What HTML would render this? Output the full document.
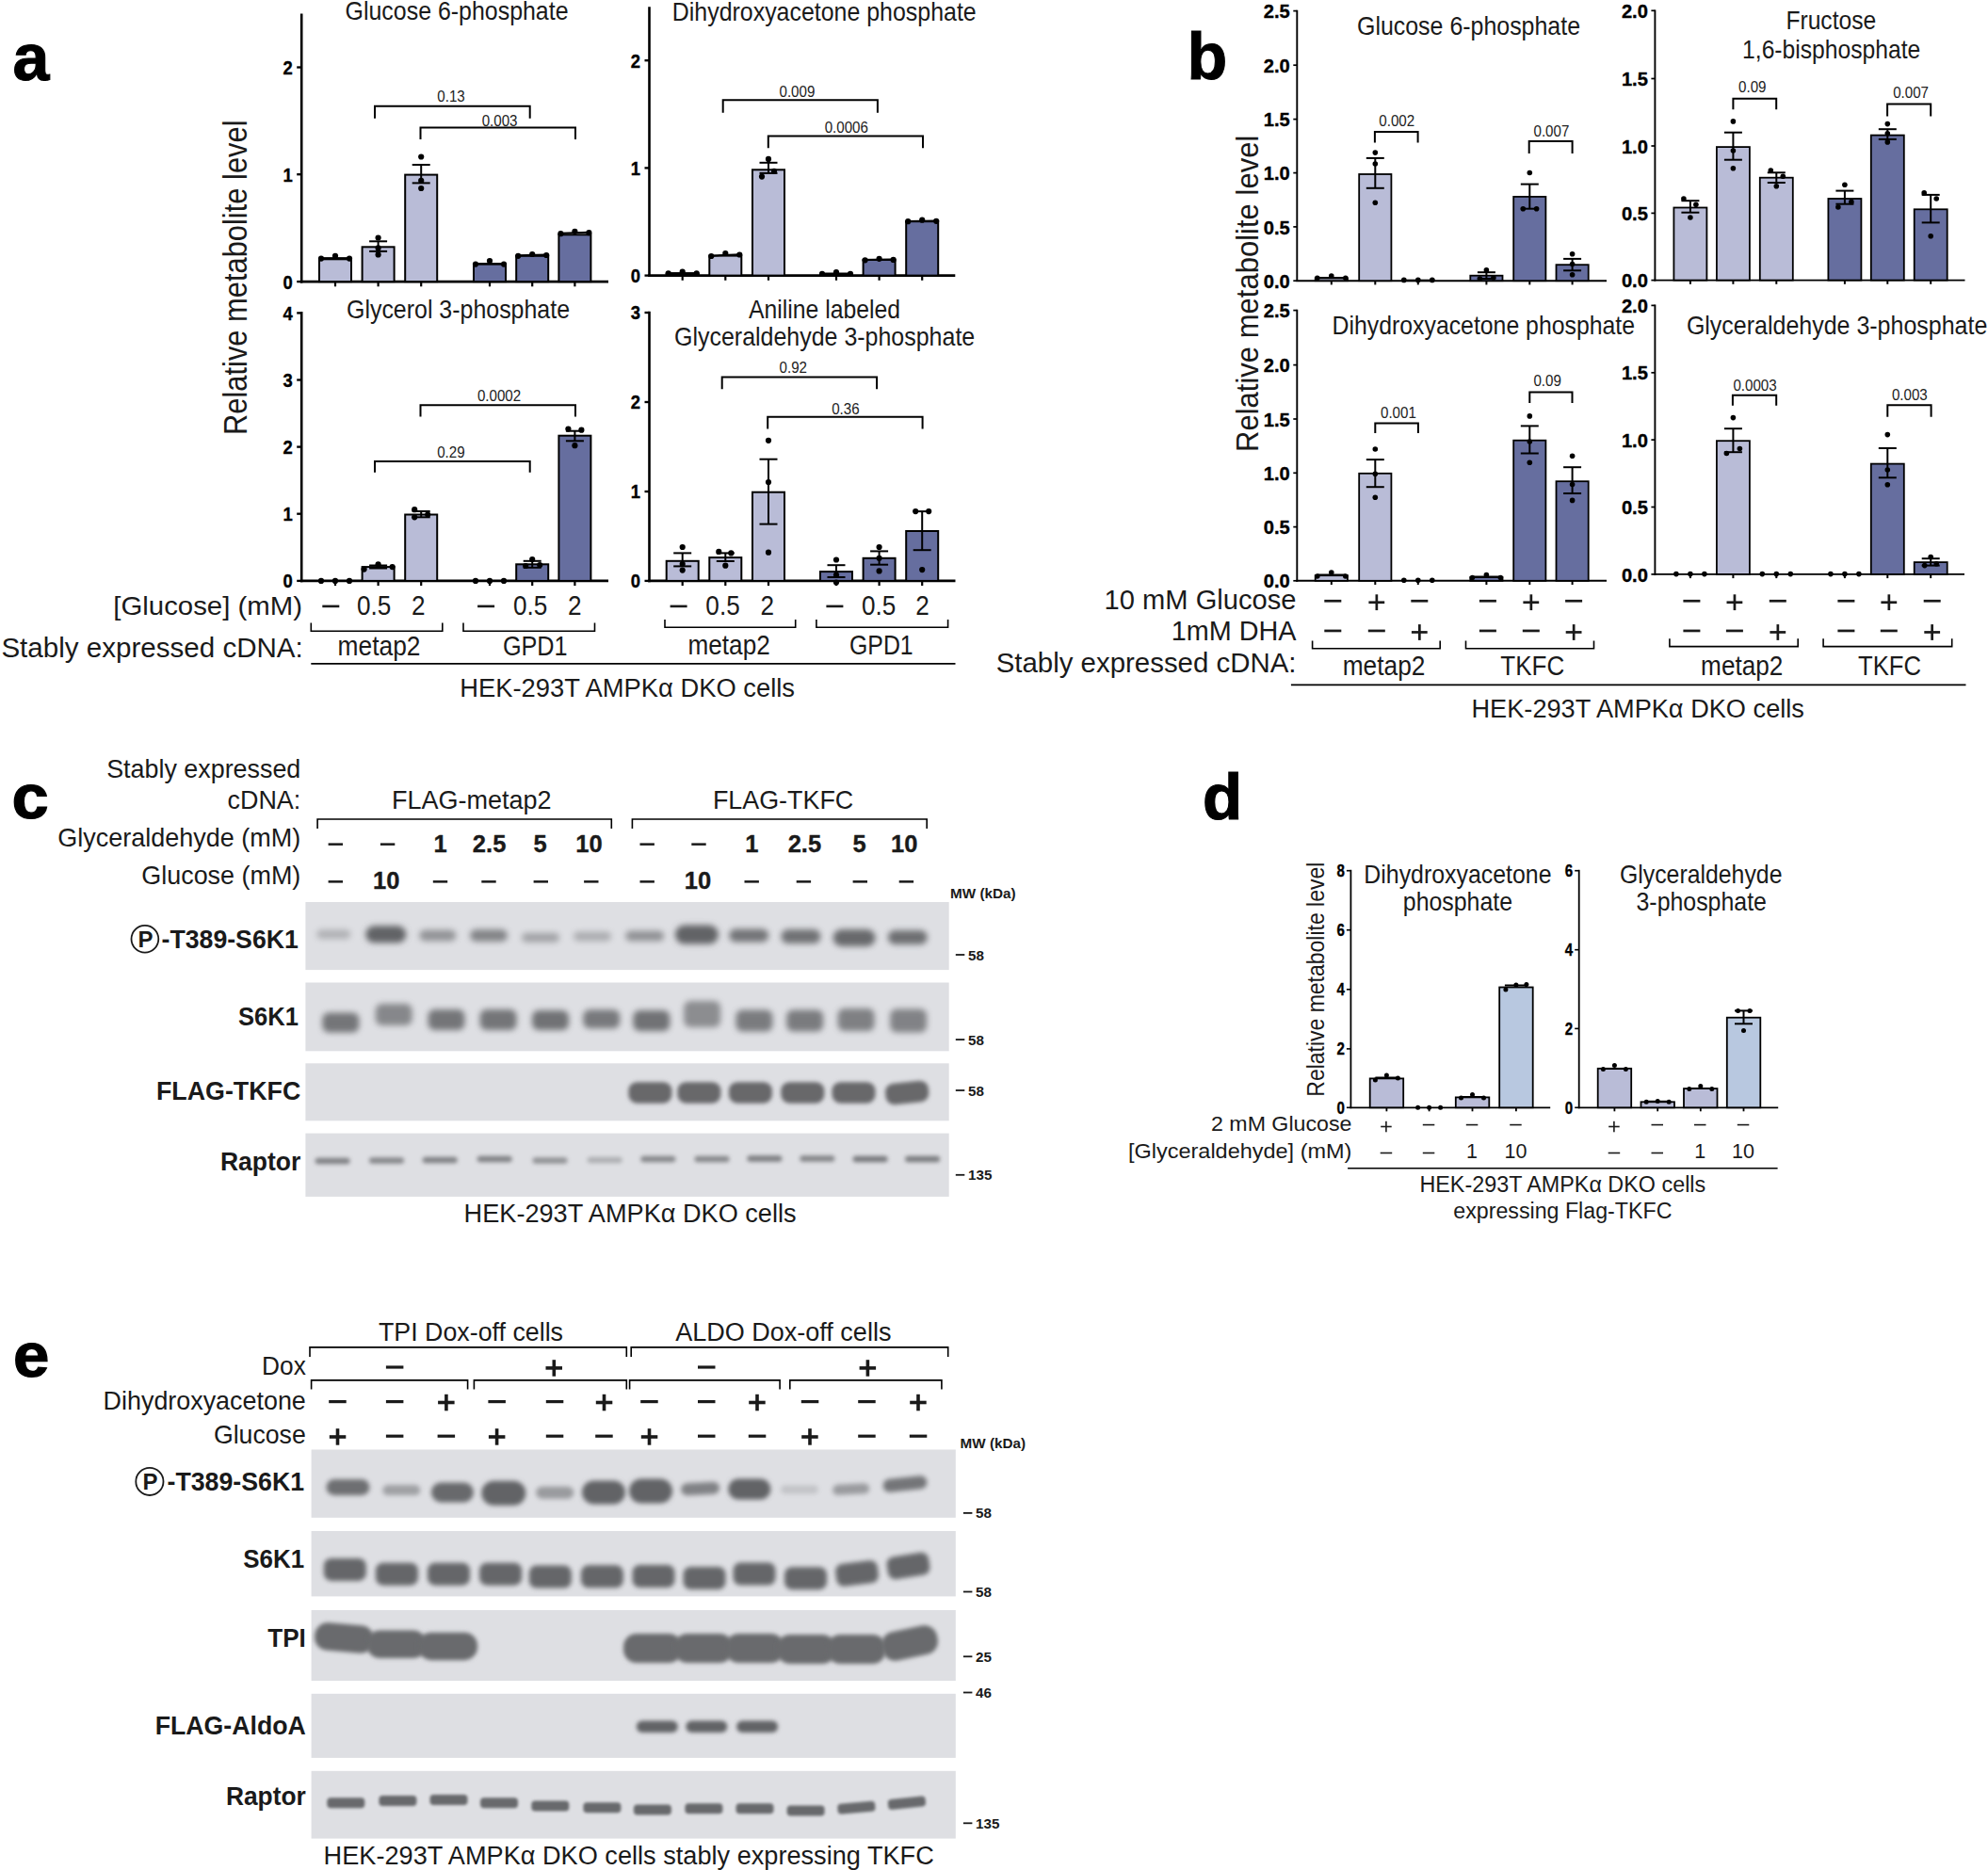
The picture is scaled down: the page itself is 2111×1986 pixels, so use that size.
<!DOCTYPE html>
<html lang="en"><head><meta charset="utf-8"><title>Figure</title>
<style>
html,body{margin:0;padding:0;background:#fff;}
svg{display:block}
text{font-family:"Liberation Sans",Arial,Helvetica,sans-serif;}
</style></head>
<body>
<svg width="2111" height="1986" viewBox="0 0 2111 1986">
<defs>
<filter id="b15" x="-30%" y="-100%" width="160%" height="300%"><feGaussianBlur stdDeviation="1.5"/></filter>
<filter id="b2" x="-30%" y="-100%" width="160%" height="300%"><feGaussianBlur stdDeviation="2"/></filter>
<filter id="b25" x="-30%" y="-100%" width="160%" height="300%"><feGaussianBlur stdDeviation="2.5"/></filter>
<filter id="b35" x="-30%" y="-100%" width="160%" height="300%"><feGaussianBlur stdDeviation="3.5"/></filter>
<filter id="b3" x="-30%" y="-100%" width="160%" height="300%"><feGaussianBlur stdDeviation="3"/></filter>
<filter id="b4" x="-30%" y="-100%" width="160%" height="300%"><feGaussianBlur stdDeviation="4"/></filter>
</defs>
<rect width="2111" height="1986" fill="#fff"/>
<text x="13.5" y="84.5" font-size="70" font-weight="bold" fill="#000" stroke="#000" stroke-width="1">a</text>
<text transform="translate(262.0,462.0) rotate(-90)" font-size="35.5" textLength="334.5" lengthAdjust="spacingAndGlyphs" fill="#1a1a1a">Relative metabolite level</text>
<line x1="320.2" y1="14.5" x2="320.2" y2="300.4" stroke="#000" stroke-width="2.6" stroke-linecap="butt"/>
<line x1="318.9" y1="299.1" x2="646.0" y2="299.1" stroke="#000" stroke-width="2.6" stroke-linecap="butt"/>
<line x1="315.2" y1="71.5" x2="320.2" y2="71.5" stroke="#000" stroke-width="2.3400000000000003" stroke-linecap="butt"/>
<text transform="translate(310.7,78.9) scale(0.9,1)" font-size="20.5" font-weight="bold" text-anchor="end" fill="#000" stroke="#000" stroke-width="0.35">2</text>
<line x1="315.2" y1="185.2" x2="320.2" y2="185.2" stroke="#000" stroke-width="2.3400000000000003" stroke-linecap="butt"/>
<text transform="translate(310.7,192.6) scale(0.9,1)" font-size="20.5" font-weight="bold" text-anchor="end" fill="#000" stroke="#000" stroke-width="0.35">1</text>
<line x1="315.2" y1="299.1" x2="320.2" y2="299.1" stroke="#000" stroke-width="2.3400000000000003" stroke-linecap="butt"/>
<text transform="translate(310.7,306.5) scale(0.9,1)" font-size="20.5" font-weight="bold" text-anchor="end" fill="#000" stroke="#000" stroke-width="0.35">0</text>
<line x1="356.0" y1="299.1" x2="356.0" y2="304.3" stroke="#000" stroke-width="2.2" stroke-linecap="butt"/>
<line x1="401.6" y1="299.1" x2="401.6" y2="304.3" stroke="#000" stroke-width="2.2" stroke-linecap="butt"/>
<line x1="447.2" y1="299.1" x2="447.2" y2="304.3" stroke="#000" stroke-width="2.2" stroke-linecap="butt"/>
<line x1="520.0" y1="299.1" x2="520.0" y2="304.3" stroke="#000" stroke-width="2.2" stroke-linecap="butt"/>
<line x1="565.2" y1="299.1" x2="565.2" y2="304.3" stroke="#000" stroke-width="2.2" stroke-linecap="butt"/>
<line x1="610.4" y1="299.1" x2="610.4" y2="304.3" stroke="#000" stroke-width="2.2" stroke-linecap="butt"/>
<text x="366.6" y="21.4" font-size="28"  textLength="236.9" lengthAdjust="spacingAndGlyphs" fill="#1a1a1a" >Glucose 6-phosphate</text>
<rect x="339.0" y="275.3" width="34.0" height="23.8" fill="#b9bcd7" stroke="#000" stroke-width="2"/>
<rect x="384.6" y="262.3" width="34.0" height="36.8" fill="#b9bcd7" stroke="#000" stroke-width="2"/>
<rect x="430.2" y="185.6" width="34.0" height="113.5" fill="#b9bcd7" stroke="#000" stroke-width="2"/>
<rect x="503.0" y="280.6" width="34.0" height="18.5" fill="#666e9f" stroke="#000" stroke-width="2"/>
<rect x="548.2" y="271.8" width="34.0" height="27.3" fill="#666e9f" stroke="#000" stroke-width="2"/>
<rect x="593.4" y="249.3" width="34.0" height="49.8" fill="#666e9f" stroke="#000" stroke-width="2"/>
<line x1="401.6" y1="256.3" x2="401.6" y2="266.9" stroke="#000" stroke-width="2" stroke-linecap="butt"/>
<line x1="392.1" y1="256.3" x2="411.1" y2="256.3" stroke="#000" stroke-width="2" stroke-linecap="butt"/>
<line x1="392.1" y1="266.9" x2="411.1" y2="266.9" stroke="#000" stroke-width="2" stroke-linecap="butt"/>
<line x1="447.2" y1="175.0" x2="447.2" y2="194.4" stroke="#000" stroke-width="2" stroke-linecap="butt"/>
<line x1="437.7" y1="175.0" x2="456.7" y2="175.0" stroke="#000" stroke-width="2" stroke-linecap="butt"/>
<line x1="437.7" y1="194.4" x2="456.7" y2="194.4" stroke="#000" stroke-width="2" stroke-linecap="butt"/>
<line x1="341.0" y1="274.1" x2="371.0" y2="274.1" stroke="#000" stroke-width="2" stroke-linecap="butt"/>
<circle cx="341.0" cy="274.6" r="3.1" fill="#000"/>
<circle cx="356.0" cy="271.8" r="3.1" fill="#000"/>
<circle cx="371.0" cy="274.6" r="3.1" fill="#000"/>
<line x1="505.0" y1="280.1" x2="535.0" y2="280.1" stroke="#000" stroke-width="2" stroke-linecap="butt"/>
<circle cx="505.0" cy="280.6" r="3.1" fill="#000"/>
<circle cx="520.0" cy="277.1" r="3.1" fill="#000"/>
<circle cx="535.0" cy="280.6" r="3.1" fill="#000"/>
<line x1="550.2" y1="271.3" x2="580.2" y2="270.5" stroke="#000" stroke-width="2" stroke-linecap="butt"/>
<circle cx="550.2" cy="271.8" r="3.1" fill="#000"/>
<circle cx="565.2" cy="270.0" r="3.1" fill="#000"/>
<circle cx="580.2" cy="271.0" r="3.1" fill="#000"/>
<line x1="595.4" y1="247.7" x2="625.4" y2="246.7" stroke="#000" stroke-width="2" stroke-linecap="butt"/>
<circle cx="595.4" cy="248.2" r="3.1" fill="#000"/>
<circle cx="610.4" cy="245.8" r="3.1" fill="#000"/>
<circle cx="625.4" cy="247.2" r="3.1" fill="#000"/>
<circle cx="401.6" cy="252.5" r="3.1" fill="#000"/>
<circle cx="401.6" cy="263.4" r="3.1" fill="#000"/>
<circle cx="401.6" cy="270.4" r="3.1" fill="#000"/>
<circle cx="447.2" cy="166.5" r="3.1" fill="#000"/>
<circle cx="447.2" cy="191.9" r="3.1" fill="#000"/>
<circle cx="447.2" cy="200.0" r="3.1" fill="#000"/>
<path d="M398.0,125.7 V112.7 H562.7 V125.7" stroke="#000" stroke-width="2" fill="none"/>
<text transform="translate(479.0,108.0) scale(0.89,1)" font-size="17"  text-anchor="middle" fill="#222">0.13</text>
<path d="M446.5,148.0 V135.6 H611.0 V148.0" stroke="#000" stroke-width="2" fill="none"/>
<text transform="translate(530.6,133.6) scale(0.89,1)" font-size="17"  text-anchor="middle" fill="#222">0.003</text>
<line x1="320.2" y1="331.1" x2="320.2" y2="618.2" stroke="#000" stroke-width="2.6" stroke-linecap="butt"/>
<line x1="318.9" y1="616.9" x2="646.0" y2="616.9" stroke="#000" stroke-width="2.6" stroke-linecap="butt"/>
<line x1="315.2" y1="332.4" x2="320.2" y2="332.4" stroke="#000" stroke-width="2.3400000000000003" stroke-linecap="butt"/>
<text transform="translate(310.7,339.8) scale(0.9,1)" font-size="20.5" font-weight="bold" text-anchor="end" fill="#000" stroke="#000" stroke-width="0.35">4</text>
<line x1="315.2" y1="403.5" x2="320.2" y2="403.5" stroke="#000" stroke-width="2.3400000000000003" stroke-linecap="butt"/>
<text transform="translate(310.7,410.9) scale(0.9,1)" font-size="20.5" font-weight="bold" text-anchor="end" fill="#000" stroke="#000" stroke-width="0.35">3</text>
<line x1="315.2" y1="474.6" x2="320.2" y2="474.6" stroke="#000" stroke-width="2.3400000000000003" stroke-linecap="butt"/>
<text transform="translate(310.7,482.0) scale(0.9,1)" font-size="20.5" font-weight="bold" text-anchor="end" fill="#000" stroke="#000" stroke-width="0.35">2</text>
<line x1="315.2" y1="545.7" x2="320.2" y2="545.7" stroke="#000" stroke-width="2.3400000000000003" stroke-linecap="butt"/>
<text transform="translate(310.7,553.1) scale(0.9,1)" font-size="20.5" font-weight="bold" text-anchor="end" fill="#000" stroke="#000" stroke-width="0.35">1</text>
<line x1="315.2" y1="616.9" x2="320.2" y2="616.9" stroke="#000" stroke-width="2.3400000000000003" stroke-linecap="butt"/>
<text transform="translate(310.7,624.3) scale(0.9,1)" font-size="20.5" font-weight="bold" text-anchor="end" fill="#000" stroke="#000" stroke-width="0.35">0</text>
<line x1="356.0" y1="616.9" x2="356.0" y2="622.1" stroke="#000" stroke-width="2.2" stroke-linecap="butt"/>
<line x1="401.6" y1="616.9" x2="401.6" y2="622.1" stroke="#000" stroke-width="2.2" stroke-linecap="butt"/>
<line x1="447.2" y1="616.9" x2="447.2" y2="622.1" stroke="#000" stroke-width="2.2" stroke-linecap="butt"/>
<line x1="520.0" y1="616.9" x2="520.0" y2="622.1" stroke="#000" stroke-width="2.2" stroke-linecap="butt"/>
<line x1="565.2" y1="616.9" x2="565.2" y2="622.1" stroke="#000" stroke-width="2.2" stroke-linecap="butt"/>
<line x1="610.4" y1="616.9" x2="610.4" y2="622.1" stroke="#000" stroke-width="2.2" stroke-linecap="butt"/>
<text x="368.0" y="337.7" font-size="28"  textLength="237.0" lengthAdjust="spacingAndGlyphs" fill="#1a1a1a" >Glycerol 3-phosphate</text>
<rect x="384.6" y="602.1" width="34.0" height="14.8" fill="#b9bcd7" stroke="#000" stroke-width="2"/>
<rect x="430.2" y="546.5" width="34.0" height="70.4" fill="#b9bcd7" stroke="#000" stroke-width="2"/>
<rect x="548.2" y="599.3" width="34.0" height="17.6" fill="#666e9f" stroke="#000" stroke-width="2"/>
<rect x="593.4" y="462.7" width="34.0" height="154.2" fill="#666e9f" stroke="#000" stroke-width="2"/>
<circle cx="341.0" cy="616.9" r="3.1" fill="#000"/>
<circle cx="356.0" cy="616.9" r="3.1" fill="#000"/>
<circle cx="371.0" cy="616.9" r="3.1" fill="#000"/>
<circle cx="505.0" cy="616.9" r="3.1" fill="#000"/>
<circle cx="520.0" cy="616.9" r="3.1" fill="#000"/>
<circle cx="535.0" cy="616.9" r="3.1" fill="#000"/>
<line x1="401.6" y1="600.5" x2="401.6" y2="603.5" stroke="#000" stroke-width="2" stroke-linecap="butt"/>
<line x1="392.1" y1="600.5" x2="411.1" y2="600.5" stroke="#000" stroke-width="2" stroke-linecap="butt"/>
<line x1="392.1" y1="603.5" x2="411.1" y2="603.5" stroke="#000" stroke-width="2" stroke-linecap="butt"/>
<circle cx="386.6" cy="604.6" r="3.1" fill="#000"/>
<circle cx="401.6" cy="599.3" r="3.1" fill="#000"/>
<circle cx="416.6" cy="602.1" r="3.1" fill="#000"/>
<line x1="447.2" y1="543.0" x2="447.2" y2="549.3" stroke="#000" stroke-width="2" stroke-linecap="butt"/>
<line x1="437.7" y1="543.0" x2="456.7" y2="543.0" stroke="#000" stroke-width="2" stroke-linecap="butt"/>
<line x1="437.7" y1="549.3" x2="456.7" y2="549.3" stroke="#000" stroke-width="2" stroke-linecap="butt"/>
<circle cx="440.2" cy="541.2" r="3.1" fill="#000"/>
<circle cx="440.2" cy="549.3" r="3.1" fill="#000"/>
<circle cx="454.2" cy="546.5" r="3.1" fill="#000"/>
<line x1="565.2" y1="595.8" x2="565.2" y2="602.8" stroke="#000" stroke-width="2" stroke-linecap="butt"/>
<line x1="555.7" y1="595.8" x2="574.7" y2="595.8" stroke="#000" stroke-width="2" stroke-linecap="butt"/>
<line x1="555.7" y1="602.8" x2="574.7" y2="602.8" stroke="#000" stroke-width="2" stroke-linecap="butt"/>
<circle cx="558.2" cy="601.0" r="3.1" fill="#000"/>
<circle cx="565.2" cy="594.0" r="3.1" fill="#000"/>
<circle cx="573.2" cy="600.0" r="3.1" fill="#000"/>
<line x1="610.4" y1="457.7" x2="610.4" y2="468.3" stroke="#000" stroke-width="2" stroke-linecap="butt"/>
<line x1="600.9" y1="457.7" x2="619.9" y2="457.7" stroke="#000" stroke-width="2" stroke-linecap="butt"/>
<line x1="600.9" y1="468.3" x2="619.9" y2="468.3" stroke="#000" stroke-width="2" stroke-linecap="butt"/>
<circle cx="603.4" cy="455.6" r="3.1" fill="#000"/>
<circle cx="617.4" cy="456.7" r="3.1" fill="#000"/>
<circle cx="610.4" cy="473.2" r="3.1" fill="#000"/>
<path d="M446.5,442.6 V430.3 H611.0 V442.6" stroke="#000" stroke-width="2" fill="none"/>
<text transform="translate(530.0,425.7) scale(0.89,1)" font-size="17"  text-anchor="middle" fill="#222">0.0002</text>
<path d="M398.0,501.8 V490.1 H562.7 V501.8" stroke="#000" stroke-width="2" fill="none"/>
<text transform="translate(478.9,485.9) scale(0.89,1)" font-size="17"  text-anchor="middle" fill="#222">0.29</text>
<line x1="689.5" y1="7.3" x2="689.5" y2="293.9" stroke="#000" stroke-width="2.6" stroke-linecap="butt"/>
<line x1="688.2" y1="292.6" x2="1014.3" y2="292.6" stroke="#000" stroke-width="2.6" stroke-linecap="butt"/>
<line x1="684.5" y1="64.2" x2="689.5" y2="64.2" stroke="#000" stroke-width="2.3400000000000003" stroke-linecap="butt"/>
<text transform="translate(680.0,71.6) scale(0.9,1)" font-size="20.5" font-weight="bold" text-anchor="end" fill="#000" stroke="#000" stroke-width="0.35">2</text>
<line x1="684.5" y1="178.4" x2="689.5" y2="178.4" stroke="#000" stroke-width="2.3400000000000003" stroke-linecap="butt"/>
<text transform="translate(680.0,185.8) scale(0.9,1)" font-size="20.5" font-weight="bold" text-anchor="end" fill="#000" stroke="#000" stroke-width="0.35">1</text>
<line x1="684.5" y1="292.6" x2="689.5" y2="292.6" stroke="#000" stroke-width="2.3400000000000003" stroke-linecap="butt"/>
<text transform="translate(680.0,300.0) scale(0.9,1)" font-size="20.5" font-weight="bold" text-anchor="end" fill="#000" stroke="#000" stroke-width="0.35">0</text>
<line x1="724.7" y1="292.6" x2="724.7" y2="297.8" stroke="#000" stroke-width="2.2" stroke-linecap="butt"/>
<line x1="770.3" y1="292.6" x2="770.3" y2="297.8" stroke="#000" stroke-width="2.2" stroke-linecap="butt"/>
<line x1="816.0" y1="292.6" x2="816.0" y2="297.8" stroke="#000" stroke-width="2.2" stroke-linecap="butt"/>
<line x1="888.0" y1="292.6" x2="888.0" y2="297.8" stroke="#000" stroke-width="2.2" stroke-linecap="butt"/>
<line x1="933.6" y1="292.6" x2="933.6" y2="297.8" stroke="#000" stroke-width="2.2" stroke-linecap="butt"/>
<line x1="979.2" y1="292.6" x2="979.2" y2="297.8" stroke="#000" stroke-width="2.2" stroke-linecap="butt"/>
<text x="713.8" y="21.5" font-size="28"  textLength="322.9" lengthAdjust="spacingAndGlyphs" fill="#1a1a1a" >Dihydroxyacetone phosphate</text>
<rect x="707.7" y="290.6" width="34.0" height="2.0" fill="#b9bcd7" stroke="#000" stroke-width="2"/>
<rect x="753.3" y="271.6" width="34.0" height="21.0" fill="#b9bcd7" stroke="#000" stroke-width="2"/>
<rect x="799.0" y="180.3" width="34.0" height="112.3" fill="#b9bcd7" stroke="#000" stroke-width="2"/>
<rect x="871.0" y="291.0" width="34.0" height="1.6" fill="#666e9f" stroke="#000" stroke-width="2"/>
<rect x="916.6" y="275.9" width="34.0" height="16.7" fill="#666e9f" stroke="#000" stroke-width="2"/>
<rect x="962.2" y="235.2" width="34.0" height="57.4" fill="#666e9f" stroke="#000" stroke-width="2"/>
<line x1="709.7" y1="290.1" x2="739.7" y2="290.1" stroke="#000" stroke-width="2" stroke-linecap="butt"/>
<circle cx="709.7" cy="290.4" r="3.1" fill="#000"/>
<circle cx="724.7" cy="288.7" r="3.1" fill="#000"/>
<circle cx="739.7" cy="290.4" r="3.1" fill="#000"/>
<line x1="755.3" y1="271.7" x2="785.3" y2="270.2" stroke="#000" stroke-width="2" stroke-linecap="butt"/>
<circle cx="755.3" cy="272.0" r="3.1" fill="#000"/>
<circle cx="770.3" cy="269.0" r="3.1" fill="#000"/>
<circle cx="785.3" cy="270.5" r="3.1" fill="#000"/>
<line x1="873.0" y1="290.5" x2="903.0" y2="290.5" stroke="#000" stroke-width="2" stroke-linecap="butt"/>
<circle cx="873.0" cy="290.8" r="3.1" fill="#000"/>
<circle cx="888.0" cy="289.2" r="3.1" fill="#000"/>
<circle cx="903.0" cy="290.8" r="3.1" fill="#000"/>
<line x1="918.6" y1="276.0" x2="948.6" y2="275.6" stroke="#000" stroke-width="2" stroke-linecap="butt"/>
<circle cx="918.6" cy="276.3" r="3.1" fill="#000"/>
<circle cx="933.6" cy="274.8" r="3.1" fill="#000"/>
<circle cx="948.6" cy="275.9" r="3.1" fill="#000"/>
<line x1="964.2" y1="234.9" x2="994.2" y2="234.5" stroke="#000" stroke-width="2" stroke-linecap="butt"/>
<circle cx="964.2" cy="235.2" r="3.1" fill="#000"/>
<circle cx="979.2" cy="233.7" r="3.1" fill="#000"/>
<circle cx="994.2" cy="234.8" r="3.1" fill="#000"/>
<line x1="816.0" y1="172.8" x2="816.0" y2="183.9" stroke="#000" stroke-width="2" stroke-linecap="butt"/>
<line x1="806.5" y1="172.8" x2="825.5" y2="172.8" stroke="#000" stroke-width="2" stroke-linecap="butt"/>
<line x1="806.5" y1="183.9" x2="825.5" y2="183.9" stroke="#000" stroke-width="2" stroke-linecap="butt"/>
<circle cx="816.0" cy="168.9" r="3.1" fill="#000"/>
<circle cx="822.0" cy="181.8" r="3.1" fill="#000"/>
<circle cx="809.0" cy="187.6" r="3.1" fill="#000"/>
<path d="M767.7,119.8 V106.3 H931.9 V119.8" stroke="#000" stroke-width="2" fill="none"/>
<text transform="translate(846.4,102.5) scale(0.89,1)" font-size="17"  text-anchor="middle" fill="#222">0.009</text>
<path d="M815.8,157.2 V144.4 H980.0 V157.2" stroke="#000" stroke-width="2" fill="none"/>
<text transform="translate(898.8,140.5) scale(0.89,1)" font-size="17"  text-anchor="middle" fill="#222">0.0006</text>
<line x1="689.5" y1="330.7" x2="689.5" y2="618.2" stroke="#000" stroke-width="2.6" stroke-linecap="butt"/>
<line x1="688.2" y1="616.9" x2="1014.5" y2="616.9" stroke="#000" stroke-width="2.6" stroke-linecap="butt"/>
<line x1="684.5" y1="332.0" x2="689.5" y2="332.0" stroke="#000" stroke-width="2.3400000000000003" stroke-linecap="butt"/>
<text transform="translate(680.0,339.4) scale(0.9,1)" font-size="20.5" font-weight="bold" text-anchor="end" fill="#000" stroke="#000" stroke-width="0.35">3</text>
<line x1="684.5" y1="427.0" x2="689.5" y2="427.0" stroke="#000" stroke-width="2.3400000000000003" stroke-linecap="butt"/>
<text transform="translate(680.0,434.4) scale(0.9,1)" font-size="20.5" font-weight="bold" text-anchor="end" fill="#000" stroke="#000" stroke-width="0.35">2</text>
<line x1="684.5" y1="522.0" x2="689.5" y2="522.0" stroke="#000" stroke-width="2.3400000000000003" stroke-linecap="butt"/>
<text transform="translate(680.0,529.4) scale(0.9,1)" font-size="20.5" font-weight="bold" text-anchor="end" fill="#000" stroke="#000" stroke-width="0.35">1</text>
<line x1="684.5" y1="616.9" x2="689.5" y2="616.9" stroke="#000" stroke-width="2.3400000000000003" stroke-linecap="butt"/>
<text transform="translate(680.0,624.3) scale(0.9,1)" font-size="20.5" font-weight="bold" text-anchor="end" fill="#000" stroke="#000" stroke-width="0.35">0</text>
<line x1="724.7" y1="616.9" x2="724.7" y2="622.1" stroke="#000" stroke-width="2.2" stroke-linecap="butt"/>
<line x1="770.3" y1="616.9" x2="770.3" y2="622.1" stroke="#000" stroke-width="2.2" stroke-linecap="butt"/>
<line x1="816.0" y1="616.9" x2="816.0" y2="622.1" stroke="#000" stroke-width="2.2" stroke-linecap="butt"/>
<line x1="888.0" y1="616.9" x2="888.0" y2="622.1" stroke="#000" stroke-width="2.2" stroke-linecap="butt"/>
<line x1="933.6" y1="616.9" x2="933.6" y2="622.1" stroke="#000" stroke-width="2.2" stroke-linecap="butt"/>
<line x1="979.2" y1="616.9" x2="979.2" y2="622.1" stroke="#000" stroke-width="2.2" stroke-linecap="butt"/>
<text x="795.0" y="338.0" font-size="28"  textLength="161.0" lengthAdjust="spacingAndGlyphs" fill="#1a1a1a" >Aniline labeled</text>
<text x="716.0" y="367.4" font-size="28"  textLength="319.2" lengthAdjust="spacingAndGlyphs" fill="#1a1a1a" >Glyceraldehyde 3-phosphate</text>
<rect x="707.7" y="595.8" width="34.0" height="21.1" fill="#b9bcd7" stroke="#000" stroke-width="2"/>
<rect x="753.3" y="592.1" width="34.0" height="24.8" fill="#b9bcd7" stroke="#000" stroke-width="2"/>
<rect x="799.0" y="522.7" width="34.0" height="94.2" fill="#b9bcd7" stroke="#000" stroke-width="2"/>
<rect x="871.0" y="607.1" width="34.0" height="9.8" fill="#666e9f" stroke="#000" stroke-width="2"/>
<rect x="916.6" y="592.8" width="34.0" height="24.1" fill="#666e9f" stroke="#000" stroke-width="2"/>
<rect x="962.2" y="564.0" width="34.0" height="52.9" fill="#666e9f" stroke="#000" stroke-width="2"/>
<line x1="724.7" y1="587.4" x2="724.7" y2="601.4" stroke="#000" stroke-width="2" stroke-linecap="butt"/>
<line x1="715.2" y1="587.4" x2="734.2" y2="587.4" stroke="#000" stroke-width="2" stroke-linecap="butt"/>
<line x1="715.2" y1="601.4" x2="734.2" y2="601.4" stroke="#000" stroke-width="2" stroke-linecap="butt"/>
<line x1="770.3" y1="587.4" x2="770.3" y2="596.0" stroke="#000" stroke-width="2" stroke-linecap="butt"/>
<line x1="760.8" y1="587.4" x2="779.8" y2="587.4" stroke="#000" stroke-width="2" stroke-linecap="butt"/>
<line x1="760.8" y1="596.0" x2="779.8" y2="596.0" stroke="#000" stroke-width="2" stroke-linecap="butt"/>
<line x1="816.0" y1="487.7" x2="816.0" y2="556.6" stroke="#000" stroke-width="2" stroke-linecap="butt"/>
<line x1="806.5" y1="487.7" x2="825.5" y2="487.7" stroke="#000" stroke-width="2" stroke-linecap="butt"/>
<line x1="806.5" y1="556.6" x2="825.5" y2="556.6" stroke="#000" stroke-width="2" stroke-linecap="butt"/>
<line x1="888.0" y1="600.2" x2="888.0" y2="613.0" stroke="#000" stroke-width="2" stroke-linecap="butt"/>
<line x1="878.5" y1="600.2" x2="897.5" y2="600.2" stroke="#000" stroke-width="2" stroke-linecap="butt"/>
<line x1="878.5" y1="613.0" x2="897.5" y2="613.0" stroke="#000" stroke-width="2" stroke-linecap="butt"/>
<line x1="933.6" y1="585.4" x2="933.6" y2="599.7" stroke="#000" stroke-width="2" stroke-linecap="butt"/>
<line x1="924.1" y1="585.4" x2="943.1" y2="585.4" stroke="#000" stroke-width="2" stroke-linecap="butt"/>
<line x1="924.1" y1="599.7" x2="943.1" y2="599.7" stroke="#000" stroke-width="2" stroke-linecap="butt"/>
<line x1="979.2" y1="543.1" x2="979.2" y2="584.2" stroke="#000" stroke-width="2" stroke-linecap="butt"/>
<line x1="969.7" y1="543.1" x2="988.7" y2="543.1" stroke="#000" stroke-width="2" stroke-linecap="butt"/>
<line x1="969.7" y1="584.2" x2="988.7" y2="584.2" stroke="#000" stroke-width="2" stroke-linecap="butt"/>
<circle cx="724.7" cy="581.0" r="3.1" fill="#000"/>
<circle cx="724.7" cy="599.0" r="3.1" fill="#000"/>
<circle cx="724.7" cy="605.6" r="3.1" fill="#000"/>
<circle cx="763.3" cy="585.9" r="3.1" fill="#000"/>
<circle cx="776.3" cy="587.4" r="3.1" fill="#000"/>
<circle cx="770.3" cy="600.7" r="3.1" fill="#000"/>
<circle cx="816.0" cy="467.8" r="3.1" fill="#000"/>
<circle cx="816.0" cy="512.1" r="3.1" fill="#000"/>
<circle cx="816.0" cy="586.7" r="3.1" fill="#000"/>
<circle cx="888.0" cy="594.5" r="3.1" fill="#000"/>
<circle cx="888.0" cy="610.5" r="3.1" fill="#000"/>
<circle cx="888.0" cy="618.6" r="3.1" fill="#000"/>
<circle cx="933.6" cy="581.0" r="3.1" fill="#000"/>
<circle cx="933.6" cy="592.8" r="3.1" fill="#000"/>
<circle cx="933.6" cy="606.4" r="3.1" fill="#000"/>
<circle cx="972.2" cy="543.1" r="3.1" fill="#000"/>
<circle cx="986.2" cy="543.1" r="3.1" fill="#000"/>
<circle cx="979.2" cy="605.1" r="3.1" fill="#000"/>
<path d="M766.7,413.2 V400.4 H931.1 V413.2" stroke="#000" stroke-width="2" fill="none"/>
<text transform="translate(842.3,396.0) scale(0.89,1)" font-size="17"  text-anchor="middle" fill="#222">0.92</text>
<path d="M815.2,455.5 V442.7 H979.6 V455.5" stroke="#000" stroke-width="2" fill="none"/>
<text transform="translate(897.9,439.5) scale(0.89,1)" font-size="17"  text-anchor="middle" fill="#222">0.36</text>
<text x="120.3" y="653.4" font-size="28.5"  textLength="200.7" lengthAdjust="spacingAndGlyphs" fill="#1a1a1a" >[Glucose] (mM)</text>
<text x="1.4" y="698.2" font-size="30"  textLength="320.4" lengthAdjust="spacingAndGlyphs" fill="#1a1a1a" >Stably expressed cDNA:</text>
<rect x="342.3" y="642.6" width="18.0" height="2.6" fill="#1a1a1a"/>
<text transform="translate(397.2,653.2) scale(0.87,1)" font-size="30"  text-anchor="middle" fill="#1a1a1a">0.5</text>
<text transform="translate(444.2,653.2) scale(0.87,1)" font-size="30"  text-anchor="middle" fill="#1a1a1a">2</text>
<rect x="507.1" y="642.6" width="18.0" height="2.6" fill="#1a1a1a"/>
<text transform="translate(563.2,653.2) scale(0.87,1)" font-size="30"  text-anchor="middle" fill="#1a1a1a">0.5</text>
<text transform="translate(610.2,653.2) scale(0.87,1)" font-size="30"  text-anchor="middle" fill="#1a1a1a">2</text>
<rect x="711.6" y="642.6" width="18.0" height="2.6" fill="#1a1a1a"/>
<text transform="translate(767.5,653.2) scale(0.87,1)" font-size="30"  text-anchor="middle" fill="#1a1a1a">0.5</text>
<text transform="translate(814.7,653.2) scale(0.87,1)" font-size="30"  text-anchor="middle" fill="#1a1a1a">2</text>
<rect x="877.4" y="642.6" width="18.0" height="2.6" fill="#1a1a1a"/>
<text transform="translate(933.2,653.2) scale(0.87,1)" font-size="30"  text-anchor="middle" fill="#1a1a1a">0.5</text>
<text transform="translate(979.6,653.2) scale(0.87,1)" font-size="30"  text-anchor="middle" fill="#1a1a1a">2</text>
<path d="M330.3,661.5 V670.3 H469.8 V661.5" stroke="#000" stroke-width="1.6" fill="none"/>
<path d="M492.0,661.5 V670.3 H631.5 V661.5" stroke="#000" stroke-width="1.6" fill="none"/>
<path d="M706.0,658.0 V666.3 H844.7 V658.0" stroke="#000" stroke-width="1.6" fill="none"/>
<path d="M866.9,658.0 V666.3 H1006.6 V658.0" stroke="#000" stroke-width="1.6" fill="none"/>
<text x="358.6" y="695.7" font-size="30"  textLength="87.9" lengthAdjust="spacingAndGlyphs" fill="#1a1a1a" >metap2</text>
<text x="533.9" y="695.7" font-size="30"  textLength="68.7" lengthAdjust="spacingAndGlyphs" fill="#1a1a1a" >GPD1</text>
<text x="730.6" y="694.7" font-size="30"  textLength="87.1" lengthAdjust="spacingAndGlyphs" fill="#1a1a1a" >metap2</text>
<text x="902.0" y="694.7" font-size="30"  textLength="67.7" lengthAdjust="spacingAndGlyphs" fill="#1a1a1a" >GPD1</text>
<line x1="330.3" y1="704.8" x2="1014.5" y2="704.8" stroke="#000" stroke-width="1.8" stroke-linecap="butt"/>
<text x="488.3" y="739.8" font-size="27"  textLength="355.7" lengthAdjust="spacingAndGlyphs" fill="#1a1a1a" >HEK-293T AMPKα DKO cells</text>
<text x="1260.5" y="84.4" font-size="70" font-weight="bold" fill="#000" stroke="#000" stroke-width="1">b</text>
<text transform="translate(1336.0,480.0) rotate(-90)" font-size="33.5" textLength="336.3" lengthAdjust="spacingAndGlyphs" fill="#1a1a1a">Relative metabolite level</text>
<line x1="1377.3" y1="10.7" x2="1377.3" y2="299.1" stroke="#000" stroke-width="1.9" stroke-linecap="butt"/>
<line x1="1376.3" y1="298.2" x2="1706.0" y2="298.2" stroke="#000" stroke-width="1.9" stroke-linecap="butt"/>
<line x1="1373.3" y1="11.6" x2="1377.3" y2="11.6" stroke="#000" stroke-width="1.71" stroke-linecap="butt"/>
<text transform="translate(1369.8,19.2) scale(0.96,1)" font-size="21" font-weight="bold" text-anchor="end" fill="#000" stroke="#000" stroke-width="0.35">2.5</text>
<line x1="1373.3" y1="69.2" x2="1377.3" y2="69.2" stroke="#000" stroke-width="1.71" stroke-linecap="butt"/>
<text transform="translate(1369.8,76.8) scale(0.96,1)" font-size="21" font-weight="bold" text-anchor="end" fill="#000" stroke="#000" stroke-width="0.35">2.0</text>
<line x1="1373.3" y1="126.6" x2="1377.3" y2="126.6" stroke="#000" stroke-width="1.71" stroke-linecap="butt"/>
<text transform="translate(1369.8,134.2) scale(0.96,1)" font-size="21" font-weight="bold" text-anchor="end" fill="#000" stroke="#000" stroke-width="0.35">1.5</text>
<line x1="1373.3" y1="183.6" x2="1377.3" y2="183.6" stroke="#000" stroke-width="1.71" stroke-linecap="butt"/>
<text transform="translate(1369.8,191.2) scale(0.96,1)" font-size="21" font-weight="bold" text-anchor="end" fill="#000" stroke="#000" stroke-width="0.35">1.0</text>
<line x1="1373.3" y1="240.9" x2="1377.3" y2="240.9" stroke="#000" stroke-width="1.71" stroke-linecap="butt"/>
<text transform="translate(1369.8,248.5) scale(0.96,1)" font-size="21" font-weight="bold" text-anchor="end" fill="#000" stroke="#000" stroke-width="0.35">0.5</text>
<line x1="1373.3" y1="298.2" x2="1377.3" y2="298.2" stroke="#000" stroke-width="1.71" stroke-linecap="butt"/>
<text transform="translate(1369.8,305.8) scale(0.96,1)" font-size="21" font-weight="bold" text-anchor="end" fill="#000" stroke="#000" stroke-width="0.35">0.0</text>
<line x1="1413.8" y1="298.2" x2="1413.8" y2="302.4" stroke="#000" stroke-width="2" stroke-linecap="butt"/>
<line x1="1460.3" y1="298.2" x2="1460.3" y2="302.4" stroke="#000" stroke-width="2" stroke-linecap="butt"/>
<line x1="1505.8" y1="298.2" x2="1505.8" y2="302.4" stroke="#000" stroke-width="2" stroke-linecap="butt"/>
<line x1="1578.4" y1="298.2" x2="1578.4" y2="302.4" stroke="#000" stroke-width="2" stroke-linecap="butt"/>
<line x1="1624.3" y1="298.2" x2="1624.3" y2="302.4" stroke="#000" stroke-width="2" stroke-linecap="butt"/>
<line x1="1669.6" y1="298.2" x2="1669.6" y2="302.4" stroke="#000" stroke-width="2" stroke-linecap="butt"/>
<text x="1441.0" y="37.3" font-size="28"  textLength="237.0" lengthAdjust="spacingAndGlyphs" fill="#1a1a1a" >Glucose 6-phosphate</text>
<rect x="1396.7" y="295.5" width="34.2" height="2.7" fill="#b9bcd7" stroke="#000" stroke-width="1.8"/>
<rect x="1443.2" y="185.0" width="34.2" height="113.2" fill="#b9bcd7" stroke="#000" stroke-width="1.8"/>
<rect x="1488.7" y="297.6" width="34.2" height="0.6" fill="#b9bcd7" stroke="#000" stroke-width="1.8"/>
<rect x="1561.3" y="292.7" width="34.2" height="5.5" fill="#666e9f" stroke="#000" stroke-width="1.8"/>
<rect x="1607.2" y="208.9" width="34.2" height="89.3" fill="#666e9f" stroke="#000" stroke-width="1.8"/>
<rect x="1652.5" y="281.2" width="34.2" height="17.0" fill="#666e9f" stroke="#000" stroke-width="1.8"/>
<line x1="1398.8" y1="295.0" x2="1428.8" y2="295.0" stroke="#000" stroke-width="2" stroke-linecap="butt"/>
<circle cx="1398.8" cy="295.3" r="2.8" fill="#000"/>
<circle cx="1413.8" cy="293.0" r="2.8" fill="#000"/>
<circle cx="1428.8" cy="295.3" r="2.8" fill="#000"/>
<line x1="1460.3" y1="167.9" x2="1460.3" y2="199.8" stroke="#000" stroke-width="2" stroke-linecap="butt"/>
<line x1="1450.8" y1="167.9" x2="1469.8" y2="167.9" stroke="#000" stroke-width="2" stroke-linecap="butt"/>
<line x1="1450.8" y1="199.8" x2="1469.8" y2="199.8" stroke="#000" stroke-width="2" stroke-linecap="butt"/>
<circle cx="1460.3" cy="162.1" r="2.8" fill="#000"/>
<circle cx="1460.3" cy="174.0" r="2.8" fill="#000"/>
<circle cx="1460.3" cy="215.3" r="2.8" fill="#000"/>
<circle cx="1490.8" cy="297.4" r="2.8" fill="#000"/>
<circle cx="1505.8" cy="297.4" r="2.8" fill="#000"/>
<circle cx="1520.8" cy="297.4" r="2.8" fill="#000"/>
<line x1="1578.4" y1="289.2" x2="1578.4" y2="296.0" stroke="#000" stroke-width="2" stroke-linecap="butt"/>
<line x1="1568.9" y1="289.2" x2="1587.9" y2="289.2" stroke="#000" stroke-width="2" stroke-linecap="butt"/>
<line x1="1568.9" y1="296.0" x2="1587.9" y2="296.0" stroke="#000" stroke-width="2" stroke-linecap="butt"/>
<circle cx="1578.4" cy="286.9" r="2.8" fill="#000"/>
<circle cx="1571.4" cy="296.0" r="2.8" fill="#000"/>
<circle cx="1585.9" cy="295.0" r="2.8" fill="#000"/>
<line x1="1624.3" y1="195.6" x2="1624.3" y2="221.7" stroke="#000" stroke-width="2" stroke-linecap="butt"/>
<line x1="1614.8" y1="195.6" x2="1633.8" y2="195.6" stroke="#000" stroke-width="2" stroke-linecap="butt"/>
<line x1="1614.8" y1="221.7" x2="1633.8" y2="221.7" stroke="#000" stroke-width="2" stroke-linecap="butt"/>
<circle cx="1624.3" cy="183.5" r="2.8" fill="#000"/>
<circle cx="1617.3" cy="221.7" r="2.8" fill="#000"/>
<circle cx="1631.6" cy="221.7" r="2.8" fill="#000"/>
<line x1="1669.6" y1="274.9" x2="1669.6" y2="287.3" stroke="#000" stroke-width="2" stroke-linecap="butt"/>
<line x1="1660.1" y1="274.9" x2="1679.1" y2="274.9" stroke="#000" stroke-width="2" stroke-linecap="butt"/>
<line x1="1660.1" y1="287.3" x2="1679.1" y2="287.3" stroke="#000" stroke-width="2" stroke-linecap="butt"/>
<circle cx="1669.6" cy="269.7" r="2.8" fill="#000"/>
<circle cx="1669.6" cy="280.5" r="2.8" fill="#000"/>
<circle cx="1669.6" cy="291.7" r="2.8" fill="#000"/>
<path d="M1459.9,151.6 V140.1 H1505.6 V151.6" stroke="#000" stroke-width="2" fill="none"/>
<text transform="translate(1483.2,134.4) scale(0.89,1)" font-size="17"  text-anchor="middle" fill="#222">0.002</text>
<path d="M1623.7,163.1 V150.1 H1669.6 V163.1" stroke="#000" stroke-width="2" fill="none"/>
<text transform="translate(1647.4,144.9) scale(0.89,1)" font-size="17"  text-anchor="middle" fill="#222">0.007</text>
<line x1="1377.3" y1="328.7" x2="1377.3" y2="617.8" stroke="#000" stroke-width="1.9" stroke-linecap="butt"/>
<line x1="1376.3" y1="616.8" x2="1706.0" y2="616.8" stroke="#000" stroke-width="1.9" stroke-linecap="butt"/>
<line x1="1373.3" y1="329.6" x2="1377.3" y2="329.6" stroke="#000" stroke-width="1.71" stroke-linecap="butt"/>
<text transform="translate(1369.8,337.2) scale(0.96,1)" font-size="21" font-weight="bold" text-anchor="end" fill="#000" stroke="#000" stroke-width="0.35">2.5</text>
<line x1="1373.3" y1="387.6" x2="1377.3" y2="387.6" stroke="#000" stroke-width="1.71" stroke-linecap="butt"/>
<text transform="translate(1369.8,395.2) scale(0.96,1)" font-size="21" font-weight="bold" text-anchor="end" fill="#000" stroke="#000" stroke-width="0.35">2.0</text>
<line x1="1373.3" y1="445.0" x2="1377.3" y2="445.0" stroke="#000" stroke-width="1.71" stroke-linecap="butt"/>
<text transform="translate(1369.8,452.6) scale(0.96,1)" font-size="21" font-weight="bold" text-anchor="end" fill="#000" stroke="#000" stroke-width="0.35">1.5</text>
<line x1="1373.3" y1="502.3" x2="1377.3" y2="502.3" stroke="#000" stroke-width="1.71" stroke-linecap="butt"/>
<text transform="translate(1369.8,509.9) scale(0.96,1)" font-size="21" font-weight="bold" text-anchor="end" fill="#000" stroke="#000" stroke-width="0.35">1.0</text>
<line x1="1373.3" y1="559.6" x2="1377.3" y2="559.6" stroke="#000" stroke-width="1.71" stroke-linecap="butt"/>
<text transform="translate(1369.8,567.2) scale(0.96,1)" font-size="21" font-weight="bold" text-anchor="end" fill="#000" stroke="#000" stroke-width="0.35">0.5</text>
<line x1="1373.3" y1="616.8" x2="1377.3" y2="616.8" stroke="#000" stroke-width="1.71" stroke-linecap="butt"/>
<text transform="translate(1369.8,624.4) scale(0.96,1)" font-size="21" font-weight="bold" text-anchor="end" fill="#000" stroke="#000" stroke-width="0.35">0.0</text>
<line x1="1413.8" y1="616.8" x2="1413.8" y2="621.0" stroke="#000" stroke-width="2" stroke-linecap="butt"/>
<line x1="1460.3" y1="616.8" x2="1460.3" y2="621.0" stroke="#000" stroke-width="2" stroke-linecap="butt"/>
<line x1="1505.8" y1="616.8" x2="1505.8" y2="621.0" stroke="#000" stroke-width="2" stroke-linecap="butt"/>
<line x1="1578.4" y1="616.8" x2="1578.4" y2="621.0" stroke="#000" stroke-width="2" stroke-linecap="butt"/>
<line x1="1624.3" y1="616.8" x2="1624.3" y2="621.0" stroke="#000" stroke-width="2" stroke-linecap="butt"/>
<line x1="1669.6" y1="616.8" x2="1669.6" y2="621.0" stroke="#000" stroke-width="2" stroke-linecap="butt"/>
<text x="1414.6" y="355.2" font-size="28"  textLength="321.4" lengthAdjust="spacingAndGlyphs" fill="#1a1a1a" >Dihydroxyacetone phosphate</text>
<rect x="1396.7" y="611.2" width="34.2" height="5.6" fill="#b9bcd7" stroke="#000" stroke-width="1.8"/>
<rect x="1443.2" y="502.8" width="34.2" height="114.0" fill="#b9bcd7" stroke="#000" stroke-width="1.8"/>
<rect x="1561.3" y="613.0" width="34.2" height="3.8" fill="#666e9f" stroke="#000" stroke-width="1.8"/>
<rect x="1607.2" y="467.7" width="34.2" height="149.1" fill="#666e9f" stroke="#000" stroke-width="1.8"/>
<rect x="1652.5" y="511.2" width="34.2" height="105.6" fill="#666e9f" stroke="#000" stroke-width="1.8"/>
<line x1="1398.8" y1="610.5" x2="1428.8" y2="610.5" stroke="#000" stroke-width="2" stroke-linecap="butt"/>
<circle cx="1398.8" cy="612.0" r="2.8" fill="#000"/>
<circle cx="1413.8" cy="608.0" r="2.8" fill="#000"/>
<circle cx="1428.8" cy="612.0" r="2.8" fill="#000"/>
<line x1="1460.3" y1="488.1" x2="1460.3" y2="517.2" stroke="#000" stroke-width="2" stroke-linecap="butt"/>
<line x1="1450.8" y1="488.1" x2="1469.8" y2="488.1" stroke="#000" stroke-width="2" stroke-linecap="butt"/>
<line x1="1450.8" y1="517.2" x2="1469.8" y2="517.2" stroke="#000" stroke-width="2" stroke-linecap="butt"/>
<circle cx="1460.3" cy="477.0" r="2.8" fill="#000"/>
<circle cx="1460.3" cy="503.3" r="2.8" fill="#000"/>
<circle cx="1460.3" cy="528.2" r="2.8" fill="#000"/>
<circle cx="1490.8" cy="616.2" r="2.8" fill="#000"/>
<circle cx="1505.8" cy="616.2" r="2.8" fill="#000"/>
<circle cx="1520.8" cy="616.2" r="2.8" fill="#000"/>
<line x1="1563.4" y1="612.5" x2="1593.4" y2="612.5" stroke="#000" stroke-width="2" stroke-linecap="butt"/>
<circle cx="1563.4" cy="613.5" r="2.8" fill="#000"/>
<circle cx="1578.4" cy="610.5" r="2.8" fill="#000"/>
<circle cx="1593.4" cy="613.5" r="2.8" fill="#000"/>
<line x1="1624.3" y1="452.4" x2="1624.3" y2="481.5" stroke="#000" stroke-width="2" stroke-linecap="butt"/>
<line x1="1614.8" y1="452.4" x2="1633.8" y2="452.4" stroke="#000" stroke-width="2" stroke-linecap="butt"/>
<line x1="1614.8" y1="481.5" x2="1633.8" y2="481.5" stroke="#000" stroke-width="2" stroke-linecap="butt"/>
<circle cx="1624.3" cy="441.9" r="2.8" fill="#000"/>
<circle cx="1624.3" cy="469.0" r="2.8" fill="#000"/>
<circle cx="1624.3" cy="491.2" r="2.8" fill="#000"/>
<line x1="1669.6" y1="496.2" x2="1669.6" y2="524.0" stroke="#000" stroke-width="2" stroke-linecap="butt"/>
<line x1="1660.1" y1="496.2" x2="1679.1" y2="496.2" stroke="#000" stroke-width="2" stroke-linecap="butt"/>
<line x1="1660.1" y1="524.0" x2="1679.1" y2="524.0" stroke="#000" stroke-width="2" stroke-linecap="butt"/>
<circle cx="1669.6" cy="484.3" r="2.8" fill="#000"/>
<circle cx="1669.6" cy="514.5" r="2.8" fill="#000"/>
<circle cx="1669.6" cy="531.4" r="2.8" fill="#000"/>
<path d="M1460.3,459.9 V449.4 H1505.9 V459.9" stroke="#000" stroke-width="2" fill="none"/>
<text transform="translate(1484.9,443.9) scale(0.89,1)" font-size="17"  text-anchor="middle" fill="#222">0.001</text>
<path d="M1624.3,428.0 V416.4 H1669.5 V428.0" stroke="#000" stroke-width="2" fill="none"/>
<text transform="translate(1643.1,410.3) scale(0.89,1)" font-size="17"  text-anchor="middle" fill="#222">0.09</text>
<line x1="1757.4" y1="10.4" x2="1757.4" y2="298.6" stroke="#000" stroke-width="1.9" stroke-linecap="butt"/>
<line x1="1756.5" y1="297.6" x2="2086.5" y2="297.6" stroke="#000" stroke-width="1.9" stroke-linecap="butt"/>
<line x1="1753.4" y1="11.3" x2="1757.4" y2="11.3" stroke="#000" stroke-width="1.71" stroke-linecap="butt"/>
<text transform="translate(1749.9,18.9) scale(0.96,1)" font-size="21" font-weight="bold" text-anchor="end" fill="#000" stroke="#000" stroke-width="0.35">2.0</text>
<line x1="1753.4" y1="83.5" x2="1757.4" y2="83.5" stroke="#000" stroke-width="1.71" stroke-linecap="butt"/>
<text transform="translate(1749.9,91.1) scale(0.96,1)" font-size="21" font-weight="bold" text-anchor="end" fill="#000" stroke="#000" stroke-width="0.35">1.5</text>
<line x1="1753.4" y1="155.0" x2="1757.4" y2="155.0" stroke="#000" stroke-width="1.71" stroke-linecap="butt"/>
<text transform="translate(1749.9,162.6) scale(0.96,1)" font-size="21" font-weight="bold" text-anchor="end" fill="#000" stroke="#000" stroke-width="0.35">1.0</text>
<line x1="1753.4" y1="226.4" x2="1757.4" y2="226.4" stroke="#000" stroke-width="1.71" stroke-linecap="butt"/>
<text transform="translate(1749.9,234.0) scale(0.96,1)" font-size="21" font-weight="bold" text-anchor="end" fill="#000" stroke="#000" stroke-width="0.35">0.5</text>
<line x1="1753.4" y1="297.6" x2="1757.4" y2="297.6" stroke="#000" stroke-width="1.71" stroke-linecap="butt"/>
<text transform="translate(1749.9,305.2) scale(0.96,1)" font-size="21" font-weight="bold" text-anchor="end" fill="#000" stroke="#000" stroke-width="0.35">0.0</text>
<line x1="1794.9" y1="297.6" x2="1794.9" y2="301.8" stroke="#000" stroke-width="2" stroke-linecap="butt"/>
<line x1="1840.4" y1="297.6" x2="1840.4" y2="301.8" stroke="#000" stroke-width="2" stroke-linecap="butt"/>
<line x1="1886.3" y1="297.6" x2="1886.3" y2="301.8" stroke="#000" stroke-width="2" stroke-linecap="butt"/>
<line x1="1958.9" y1="297.6" x2="1958.9" y2="301.8" stroke="#000" stroke-width="2" stroke-linecap="butt"/>
<line x1="2004.3" y1="297.6" x2="2004.3" y2="301.8" stroke="#000" stroke-width="2" stroke-linecap="butt"/>
<line x1="2050.2" y1="297.6" x2="2050.2" y2="301.8" stroke="#000" stroke-width="2" stroke-linecap="butt"/>
<text x="1896.4" y="30.6" font-size="28"  textLength="95.9" lengthAdjust="spacingAndGlyphs" fill="#1a1a1a" >Fructose</text>
<text x="1850.1" y="61.7" font-size="28"  textLength="189.2" lengthAdjust="spacingAndGlyphs" fill="#1a1a1a" >1,6-bisphosphate</text>
<rect x="1777.4" y="220.5" width="35.0" height="77.1" fill="#b9bcd7" stroke="#000" stroke-width="1.8"/>
<rect x="1822.9" y="156.1" width="35.0" height="141.5" fill="#b9bcd7" stroke="#000" stroke-width="1.8"/>
<rect x="1868.8" y="188.7" width="35.0" height="108.9" fill="#b9bcd7" stroke="#000" stroke-width="1.8"/>
<rect x="1941.4" y="211.0" width="35.0" height="86.6" fill="#666e9f" stroke="#000" stroke-width="1.8"/>
<rect x="1986.8" y="143.6" width="35.0" height="154.0" fill="#666e9f" stroke="#000" stroke-width="1.8"/>
<rect x="2032.7" y="222.3" width="35.0" height="75.3" fill="#666e9f" stroke="#000" stroke-width="1.8"/>
<line x1="1794.9" y1="213.2" x2="1794.9" y2="225.7" stroke="#000" stroke-width="2" stroke-linecap="butt"/>
<line x1="1785.4" y1="213.2" x2="1804.4" y2="213.2" stroke="#000" stroke-width="2" stroke-linecap="butt"/>
<line x1="1785.4" y1="225.7" x2="1804.4" y2="225.7" stroke="#000" stroke-width="2" stroke-linecap="butt"/>
<line x1="1840.4" y1="140.7" x2="1840.4" y2="169.7" stroke="#000" stroke-width="2" stroke-linecap="butt"/>
<line x1="1830.9" y1="140.7" x2="1849.9" y2="140.7" stroke="#000" stroke-width="2" stroke-linecap="butt"/>
<line x1="1830.9" y1="169.7" x2="1849.9" y2="169.7" stroke="#000" stroke-width="2" stroke-linecap="butt"/>
<line x1="1886.3" y1="183.3" x2="1886.3" y2="194.0" stroke="#000" stroke-width="2" stroke-linecap="butt"/>
<line x1="1876.8" y1="183.3" x2="1895.8" y2="183.3" stroke="#000" stroke-width="2" stroke-linecap="butt"/>
<line x1="1876.8" y1="194.0" x2="1895.8" y2="194.0" stroke="#000" stroke-width="2" stroke-linecap="butt"/>
<line x1="1958.9" y1="202.6" x2="1958.9" y2="216.7" stroke="#000" stroke-width="2" stroke-linecap="butt"/>
<line x1="1949.4" y1="202.6" x2="1968.4" y2="202.6" stroke="#000" stroke-width="2" stroke-linecap="butt"/>
<line x1="1949.4" y1="216.7" x2="1968.4" y2="216.7" stroke="#000" stroke-width="2" stroke-linecap="butt"/>
<line x1="2004.3" y1="137.2" x2="2004.3" y2="147.9" stroke="#000" stroke-width="2" stroke-linecap="butt"/>
<line x1="1994.8" y1="137.2" x2="2013.8" y2="137.2" stroke="#000" stroke-width="2" stroke-linecap="butt"/>
<line x1="1994.8" y1="147.9" x2="2013.8" y2="147.9" stroke="#000" stroke-width="2" stroke-linecap="butt"/>
<line x1="2050.2" y1="206.9" x2="2050.2" y2="236.4" stroke="#000" stroke-width="2" stroke-linecap="butt"/>
<line x1="2040.7" y1="206.9" x2="2059.7" y2="206.9" stroke="#000" stroke-width="2" stroke-linecap="butt"/>
<line x1="2040.7" y1="236.4" x2="2059.7" y2="236.4" stroke="#000" stroke-width="2" stroke-linecap="butt"/>
<circle cx="1787.9" cy="211.0" r="2.8" fill="#000"/>
<circle cx="1800.9" cy="217.3" r="2.8" fill="#000"/>
<circle cx="1794.9" cy="231.0" r="2.8" fill="#000"/>
<circle cx="1840.4" cy="128.9" r="2.8" fill="#000"/>
<circle cx="1840.4" cy="160.0" r="2.8" fill="#000"/>
<circle cx="1840.4" cy="178.8" r="2.8" fill="#000"/>
<circle cx="1880.3" cy="181.0" r="2.8" fill="#000"/>
<circle cx="1893.3" cy="187.2" r="2.8" fill="#000"/>
<circle cx="1886.3" cy="197.8" r="2.8" fill="#000"/>
<circle cx="1958.9" cy="196.2" r="2.8" fill="#000"/>
<circle cx="1951.9" cy="220.0" r="2.8" fill="#000"/>
<circle cx="1965.9" cy="214.4" r="2.8" fill="#000"/>
<circle cx="2004.3" cy="131.6" r="2.8" fill="#000"/>
<circle cx="2004.3" cy="141.8" r="2.8" fill="#000"/>
<circle cx="2004.3" cy="150.9" r="2.8" fill="#000"/>
<circle cx="2043.2" cy="204.9" r="2.8" fill="#000"/>
<circle cx="2056.2" cy="211.0" r="2.8" fill="#000"/>
<circle cx="2050.2" cy="250.7" r="2.8" fill="#000"/>
<path d="M1840.4,116.2 V104.8 H1886.2 V116.2" stroke="#000" stroke-width="2" fill="none"/>
<text transform="translate(1860.8,97.5) scale(0.89,1)" font-size="17"  text-anchor="middle" fill="#222">0.09</text>
<path d="M2004.1,123.6 V110.5 H2050.2 V123.6" stroke="#000" stroke-width="2" fill="none"/>
<text transform="translate(2029.1,104.4) scale(0.89,1)" font-size="17"  text-anchor="middle" fill="#222">0.007</text>
<line x1="1757.4" y1="323.4" x2="1757.4" y2="610.9" stroke="#000" stroke-width="1.9" stroke-linecap="butt"/>
<line x1="1756.5" y1="609.9" x2="2086.0" y2="609.9" stroke="#000" stroke-width="1.9" stroke-linecap="butt"/>
<line x1="1753.4" y1="324.4" x2="1757.4" y2="324.4" stroke="#000" stroke-width="1.71" stroke-linecap="butt"/>
<text transform="translate(1749.9,332.0) scale(0.96,1)" font-size="21" font-weight="bold" text-anchor="end" fill="#000" stroke="#000" stroke-width="0.35">2.0</text>
<line x1="1753.4" y1="395.8" x2="1757.4" y2="395.8" stroke="#000" stroke-width="1.71" stroke-linecap="butt"/>
<text transform="translate(1749.9,403.4) scale(0.96,1)" font-size="21" font-weight="bold" text-anchor="end" fill="#000" stroke="#000" stroke-width="0.35">1.5</text>
<line x1="1753.4" y1="467.1" x2="1757.4" y2="467.1" stroke="#000" stroke-width="1.71" stroke-linecap="butt"/>
<text transform="translate(1749.9,474.7) scale(0.96,1)" font-size="21" font-weight="bold" text-anchor="end" fill="#000" stroke="#000" stroke-width="0.35">1.0</text>
<line x1="1753.4" y1="538.5" x2="1757.4" y2="538.5" stroke="#000" stroke-width="1.71" stroke-linecap="butt"/>
<text transform="translate(1749.9,546.1) scale(0.96,1)" font-size="21" font-weight="bold" text-anchor="end" fill="#000" stroke="#000" stroke-width="0.35">0.5</text>
<line x1="1753.4" y1="609.9" x2="1757.4" y2="609.9" stroke="#000" stroke-width="1.71" stroke-linecap="butt"/>
<text transform="translate(1749.9,617.5) scale(0.96,1)" font-size="21" font-weight="bold" text-anchor="end" fill="#000" stroke="#000" stroke-width="0.35">0.0</text>
<line x1="1794.9" y1="609.9" x2="1794.9" y2="614.1" stroke="#000" stroke-width="2" stroke-linecap="butt"/>
<line x1="1840.4" y1="609.9" x2="1840.4" y2="614.1" stroke="#000" stroke-width="2" stroke-linecap="butt"/>
<line x1="1886.3" y1="609.9" x2="1886.3" y2="614.1" stroke="#000" stroke-width="2" stroke-linecap="butt"/>
<line x1="1958.9" y1="609.9" x2="1958.9" y2="614.1" stroke="#000" stroke-width="2" stroke-linecap="butt"/>
<line x1="2004.3" y1="609.9" x2="2004.3" y2="614.1" stroke="#000" stroke-width="2" stroke-linecap="butt"/>
<line x1="2050.2" y1="609.9" x2="2050.2" y2="614.1" stroke="#000" stroke-width="2" stroke-linecap="butt"/>
<text x="1790.9" y="355.2" font-size="28"  textLength="319.4" lengthAdjust="spacingAndGlyphs" fill="#1a1a1a" >Glyceraldehyde 3-phosphate</text>
<rect x="1822.9" y="468.2" width="35.0" height="141.7" fill="#b9bcd7" stroke="#000" stroke-width="1.8"/>
<rect x="1986.8" y="492.6" width="35.0" height="117.3" fill="#666e9f" stroke="#000" stroke-width="1.8"/>
<rect x="2032.7" y="597.1" width="35.0" height="12.8" fill="#666e9f" stroke="#000" stroke-width="1.8"/>
<circle cx="1779.9" cy="609.6" r="2.8" fill="#000"/>
<circle cx="1794.9" cy="609.6" r="2.8" fill="#000"/>
<circle cx="1809.9" cy="609.6" r="2.8" fill="#000"/>
<circle cx="1871.3" cy="609.6" r="2.8" fill="#000"/>
<circle cx="1886.3" cy="609.6" r="2.8" fill="#000"/>
<circle cx="1901.3" cy="609.6" r="2.8" fill="#000"/>
<circle cx="1943.9" cy="609.6" r="2.8" fill="#000"/>
<circle cx="1958.9" cy="609.6" r="2.8" fill="#000"/>
<circle cx="1973.9" cy="609.6" r="2.8" fill="#000"/>
<line x1="1840.4" y1="455.2" x2="1840.4" y2="480.2" stroke="#000" stroke-width="2" stroke-linecap="butt"/>
<line x1="1830.9" y1="455.2" x2="1849.9" y2="455.2" stroke="#000" stroke-width="2" stroke-linecap="butt"/>
<line x1="1830.9" y1="480.2" x2="1849.9" y2="480.2" stroke="#000" stroke-width="2" stroke-linecap="butt"/>
<circle cx="1840.4" cy="443.6" r="2.8" fill="#000"/>
<circle cx="1833.4" cy="481.5" r="2.8" fill="#000"/>
<circle cx="1847.4" cy="476.5" r="2.8" fill="#000"/>
<line x1="2004.3" y1="476.0" x2="2004.3" y2="507.3" stroke="#000" stroke-width="2" stroke-linecap="butt"/>
<line x1="1994.8" y1="476.0" x2="2013.8" y2="476.0" stroke="#000" stroke-width="2" stroke-linecap="butt"/>
<line x1="1994.8" y1="507.3" x2="2013.8" y2="507.3" stroke="#000" stroke-width="2" stroke-linecap="butt"/>
<circle cx="2004.3" cy="461.6" r="2.8" fill="#000"/>
<circle cx="2004.3" cy="499.0" r="2.8" fill="#000"/>
<circle cx="2004.3" cy="514.8" r="2.8" fill="#000"/>
<line x1="2050.2" y1="593.2" x2="2050.2" y2="600.6" stroke="#000" stroke-width="2" stroke-linecap="butt"/>
<line x1="2040.7" y1="593.2" x2="2059.7" y2="593.2" stroke="#000" stroke-width="2" stroke-linecap="butt"/>
<line x1="2040.7" y1="600.6" x2="2059.7" y2="600.6" stroke="#000" stroke-width="2" stroke-linecap="butt"/>
<circle cx="2050.2" cy="591.6" r="2.8" fill="#000"/>
<circle cx="2043.7" cy="600.6" r="2.8" fill="#000"/>
<circle cx="2056.2" cy="598.7" r="2.8" fill="#000"/>
<path d="M1839.9,430.8 V419.7 H1886.2 V430.8" stroke="#000" stroke-width="2" fill="none"/>
<text transform="translate(1863.5,414.5) scale(0.89,1)" font-size="17"  text-anchor="middle" fill="#222">0.0003</text>
<path d="M2004.3,442.7 V430.3 H2050.6 V442.7" stroke="#000" stroke-width="2" fill="none"/>
<text transform="translate(2027.8,424.7) scale(0.89,1)" font-size="17"  text-anchor="middle" fill="#222">0.003</text>
<text x="1172.6" y="647.2" font-size="29.5"  textLength="203.9" lengthAdjust="spacingAndGlyphs" fill="#1a1a1a" >10 mM Glucose</text>
<text x="1243.7" y="679.6" font-size="29.5"  textLength="132.8" lengthAdjust="spacingAndGlyphs" fill="#1a1a1a" >1mM DHA</text>
<text x="1057.7" y="714.4" font-size="29.5"  textLength="318.8" lengthAdjust="spacingAndGlyphs" fill="#1a1a1a" >Stably expressed cDNA:</text>
<rect x="1406.3" y="636.9" width="18.0" height="2.7" fill="#1a1a1a"/>
<rect x="1406.3" y="668.6" width="18.0" height="2.7" fill="#1a1a1a"/>
<rect x="1453.4" y="638.4" width="16.8" height="2.7" fill="#1a1a1a"/>
<rect x="1460.5" y="631.3" width="2.7" height="16.8" fill="#1a1a1a"/>
<rect x="1452.8" y="668.6" width="18.0" height="2.7" fill="#1a1a1a"/>
<rect x="1498.3" y="636.9" width="18.0" height="2.7" fill="#1a1a1a"/>
<rect x="1498.9" y="670.1" width="16.8" height="2.7" fill="#1a1a1a"/>
<rect x="1506.0" y="663.1" width="2.7" height="16.8" fill="#1a1a1a"/>
<rect x="1570.9" y="636.9" width="18.0" height="2.7" fill="#1a1a1a"/>
<rect x="1570.9" y="668.6" width="18.0" height="2.7" fill="#1a1a1a"/>
<rect x="1617.4" y="638.4" width="16.8" height="2.7" fill="#1a1a1a"/>
<rect x="1624.5" y="631.3" width="2.7" height="16.8" fill="#1a1a1a"/>
<rect x="1616.8" y="668.6" width="18.0" height="2.7" fill="#1a1a1a"/>
<rect x="1662.1" y="636.9" width="18.0" height="2.7" fill="#1a1a1a"/>
<rect x="1662.7" y="670.1" width="16.8" height="2.7" fill="#1a1a1a"/>
<rect x="1669.8" y="663.1" width="2.7" height="16.8" fill="#1a1a1a"/>
<rect x="1787.4" y="636.9" width="18.0" height="2.7" fill="#1a1a1a"/>
<rect x="1787.4" y="668.6" width="18.0" height="2.7" fill="#1a1a1a"/>
<rect x="1833.5" y="638.4" width="16.8" height="2.7" fill="#1a1a1a"/>
<rect x="1840.6" y="631.3" width="2.7" height="16.8" fill="#1a1a1a"/>
<rect x="1832.9" y="668.6" width="18.0" height="2.7" fill="#1a1a1a"/>
<rect x="1878.8" y="636.9" width="18.0" height="2.7" fill="#1a1a1a"/>
<rect x="1879.4" y="670.1" width="16.8" height="2.7" fill="#1a1a1a"/>
<rect x="1886.5" y="663.1" width="2.7" height="16.8" fill="#1a1a1a"/>
<rect x="1951.4" y="636.9" width="18.0" height="2.7" fill="#1a1a1a"/>
<rect x="1951.4" y="668.6" width="18.0" height="2.7" fill="#1a1a1a"/>
<rect x="1997.4" y="638.4" width="16.8" height="2.7" fill="#1a1a1a"/>
<rect x="2004.5" y="631.3" width="2.7" height="16.8" fill="#1a1a1a"/>
<rect x="1996.8" y="668.6" width="18.0" height="2.7" fill="#1a1a1a"/>
<rect x="2042.7" y="636.9" width="18.0" height="2.7" fill="#1a1a1a"/>
<rect x="2043.3" y="670.1" width="16.8" height="2.7" fill="#1a1a1a"/>
<rect x="2050.3" y="663.1" width="2.7" height="16.8" fill="#1a1a1a"/>
<path d="M1393.6,680.4 V688.7 H1529.2 V680.4" stroke="#000" stroke-width="1.6" fill="none"/>
<path d="M1556.5,680.4 V688.7 H1692.5 V680.4" stroke="#000" stroke-width="1.6" fill="none"/>
<path d="M1772.9,678.3 V686.6 H1909.2 V678.3" stroke="#000" stroke-width="1.6" fill="none"/>
<path d="M1936.1,678.3 V686.6 H2072.7 V678.3" stroke="#000" stroke-width="1.6" fill="none"/>
<text x="1425.7" y="716.5" font-size="30"  textLength="87.7" lengthAdjust="spacingAndGlyphs" fill="#1a1a1a" >metap2</text>
<text x="1593.3" y="716.6" font-size="30"  textLength="67.9" lengthAdjust="spacingAndGlyphs" fill="#1a1a1a" >TKFC</text>
<text x="1806.1" y="716.5" font-size="30"  textLength="87.3" lengthAdjust="spacingAndGlyphs" fill="#1a1a1a" >metap2</text>
<text x="1973.0" y="716.6" font-size="30"  textLength="67.0" lengthAdjust="spacingAndGlyphs" fill="#1a1a1a" >TKFC</text>
<line x1="1370.9" y1="727.4" x2="2087.5" y2="727.4" stroke="#000" stroke-width="1.8" stroke-linecap="butt"/>
<text x="1562.5" y="762.2" font-size="27"  textLength="353.4" lengthAdjust="spacingAndGlyphs" fill="#1a1a1a" >HEK-293T AMPKα DKO cells</text>
<text transform="translate(12.6,868.7) scale(1.05,1)" font-size="67" font-weight="bold" fill="#000" stroke="#000" stroke-width="1.2">c</text>
<text x="113.2" y="826.2" font-size="28"  textLength="206.1" lengthAdjust="spacingAndGlyphs" fill="#1a1a1a" >Stably expressed</text>
<text x="241.5" y="859.4" font-size="28"  textLength="77.8" lengthAdjust="spacingAndGlyphs" fill="#1a1a1a" >cDNA:</text>
<text x="61.3" y="899.3" font-size="28"  textLength="258.0" lengthAdjust="spacingAndGlyphs" fill="#1a1a1a" >Glyceraldehyde (mM)</text>
<text x="150.3" y="939.4" font-size="28"  textLength="169.0" lengthAdjust="spacingAndGlyphs" fill="#1a1a1a" >Glucose (mM)</text>
<text x="415.9" y="859.4" font-size="28"  textLength="169.6" lengthAdjust="spacingAndGlyphs" fill="#1a1a1a" >FLAG-metap2</text>
<text x="756.9" y="859.4" font-size="28"  textLength="149.4" lengthAdjust="spacingAndGlyphs" fill="#1a1a1a" >FLAG-TKFC</text>
<path d="M337.1,880.0 V870.0 H649.3 V880.0" stroke="#000" stroke-width="1.6" fill="none"/>
<path d="M671.4,880.0 V870.0 H984.2 V880.0" stroke="#000" stroke-width="1.6" fill="none"/>
<rect x="348.6" y="895.4" width="15.4" height="2.5" fill="#1a1a1a"/>
<rect x="348.6" y="935.1" width="15.4" height="2.5" fill="#1a1a1a"/>
<rect x="403.9" y="895.4" width="15.4" height="2.5" fill="#1a1a1a"/>
<text x="410.2" y="943.9" font-size="25.5" font-weight="bold" text-anchor="middle" fill="#1a1a1a" stroke="#1a1a1a" stroke-width="0.35">10</text>
<text x="467.6" y="904.9" font-size="25.5" font-weight="bold" text-anchor="middle" fill="#1a1a1a" stroke="#1a1a1a" stroke-width="0.35">1</text>
<rect x="459.8" y="935.1" width="15.4" height="2.5" fill="#1a1a1a"/>
<text x="519.6" y="904.9" font-size="25.5" font-weight="bold" text-anchor="middle" fill="#1a1a1a" stroke="#1a1a1a" stroke-width="0.35">2.5</text>
<rect x="511.3" y="935.1" width="15.4" height="2.5" fill="#1a1a1a"/>
<text x="573.6" y="904.9" font-size="25.5" font-weight="bold" text-anchor="middle" fill="#1a1a1a" stroke="#1a1a1a" stroke-width="0.35">5</text>
<rect x="566.6" y="935.1" width="15.4" height="2.5" fill="#1a1a1a"/>
<text x="625.4" y="904.9" font-size="25.5" font-weight="bold" text-anchor="middle" fill="#1a1a1a" stroke="#1a1a1a" stroke-width="0.35">10</text>
<rect x="620.1" y="935.1" width="15.4" height="2.5" fill="#1a1a1a"/>
<rect x="679.5" y="895.4" width="15.4" height="2.5" fill="#1a1a1a"/>
<rect x="679.5" y="935.1" width="15.4" height="2.5" fill="#1a1a1a"/>
<rect x="734.3" y="895.4" width="15.4" height="2.5" fill="#1a1a1a"/>
<text x="741.0" y="943.9" font-size="25.5" font-weight="bold" text-anchor="middle" fill="#1a1a1a" stroke="#1a1a1a" stroke-width="0.35">10</text>
<text x="798.3" y="904.9" font-size="25.5" font-weight="bold" text-anchor="middle" fill="#1a1a1a" stroke="#1a1a1a" stroke-width="0.35">1</text>
<rect x="790.5" y="935.1" width="15.4" height="2.5" fill="#1a1a1a"/>
<text x="854.4" y="904.9" font-size="25.5" font-weight="bold" text-anchor="middle" fill="#1a1a1a" stroke="#1a1a1a" stroke-width="0.35">2.5</text>
<rect x="845.7" y="935.1" width="15.4" height="2.5" fill="#1a1a1a"/>
<text x="912.7" y="904.9" font-size="25.5" font-weight="bold" text-anchor="middle" fill="#1a1a1a" stroke="#1a1a1a" stroke-width="0.35">5</text>
<rect x="905.6" y="935.1" width="15.4" height="2.5" fill="#1a1a1a"/>
<text x="960.2" y="904.9" font-size="25.5" font-weight="bold" text-anchor="middle" fill="#1a1a1a" stroke="#1a1a1a" stroke-width="0.35">10</text>
<rect x="954.7" y="935.1" width="15.4" height="2.5" fill="#1a1a1a"/>
<g>
<rect x="324.4" y="958.0" width="683.3" height="72.1" fill="#dedfe3"/>
<rect x="324.4" y="1043.5" width="683.3" height="72.8" fill="#dedfe3"/>
<rect x="324.4" y="1129.3" width="683.3" height="61.0" fill="#dedfe3"/>
<rect x="324.4" y="1203.6" width="683.3" height="67.3" fill="#dedfe3"/>
<rect x="336.3" y="987.3" width="36.0" height="10.0" rx="5.0" fill="#626366" opacity="0.36" filter="url(#b3)"/>
<rect x="388.3" y="983.3" width="43.0" height="18.0" rx="9.0" fill="#626366" opacity="1.0" filter="url(#b3)"/>
<rect x="445.3" y="987.6" width="39.0" height="12.0" rx="6.0" fill="#626366" opacity="0.6" filter="url(#b3)"/>
<rect x="499.0" y="987.0" width="40.0" height="13.0" rx="6.5" fill="#626366" opacity="0.72" filter="url(#b3)"/>
<rect x="554.0" y="990.8" width="40.0" height="10.0" rx="5.0" fill="#626366" opacity="0.48" filter="url(#b3)"/>
<rect x="609.0" y="989.5" width="40.0" height="10.0" rx="5.0" fill="#626366" opacity="0.4" filter="url(#b3)"/>
<rect x="664.2" y="988.5" width="41.0" height="11.0" rx="5.5" fill="#626366" opacity="0.62" filter="url(#b3)"/>
<rect x="716.9" y="982.6" width="46.0" height="20.0" rx="10.0" fill="#626366" opacity="1.0" filter="url(#b3)"/>
<rect x="774.2" y="986.5" width="42.0" height="14.0" rx="7.0" fill="#626366" opacity="0.85" filter="url(#b3)"/>
<rect x="829.4" y="987.1" width="42.0" height="15.0" rx="7.5" fill="#626366" opacity="0.88" filter="url(#b3)"/>
<rect x="884.6" y="987.0" width="45.0" height="18.0" rx="9.0" fill="#626366" opacity="0.95" filter="url(#b3)"/>
<rect x="942.8" y="987.9" width="42.0" height="15.0" rx="7.5" fill="#626366" opacity="0.9" filter="url(#b3)"/>
<rect x="342.3" y="1075.5" width="39.0" height="21.0" rx="7.0" fill="#626366" opacity="0.85" filter="url(#b3)"/>
<rect x="398.7" y="1066.0" width="39.0" height="23.0" rx="7.0" fill="#626366" opacity="0.7" filter="url(#b3)"/>
<rect x="454.5" y="1072.0" width="39.0" height="22.0" rx="7.0" fill="#626366" opacity="0.85" filter="url(#b3)"/>
<rect x="509.6" y="1072.0" width="39.0" height="22.0" rx="7.0" fill="#626366" opacity="0.85" filter="url(#b3)"/>
<rect x="565.0" y="1073.0" width="39.0" height="21.0" rx="7.0" fill="#626366" opacity="0.88" filter="url(#b3)"/>
<rect x="619.2" y="1072.2" width="39.0" height="20.0" rx="7.0" fill="#626366" opacity="0.82" filter="url(#b3)"/>
<rect x="672.3" y="1073.0" width="39.0" height="22.0" rx="7.0" fill="#626366" opacity="0.88" filter="url(#b3)"/>
<rect x="726.1" y="1063.0" width="39.0" height="28.0" rx="7.0" fill="#626366" opacity="0.66" filter="url(#b3)"/>
<rect x="781.4" y="1072.5" width="39.0" height="23.0" rx="7.0" fill="#626366" opacity="0.8" filter="url(#b3)"/>
<rect x="835.2" y="1072.5" width="39.0" height="23.0" rx="7.0" fill="#626366" opacity="0.8" filter="url(#b3)"/>
<rect x="889.6" y="1071.0" width="39.0" height="24.0" rx="7.0" fill="#626366" opacity="0.76" filter="url(#b3)"/>
<rect x="945.1" y="1071.5" width="39.0" height="25.0" rx="7.0" fill="#626366" opacity="0.74" filter="url(#b3)"/>
<rect x="667.4" y="1149.2" width="46.0" height="22.5" rx="9.0" fill="#67686b" opacity="1" filter="url(#b2)"/>
<rect x="719.4" y="1149.2" width="46.0" height="22.5" rx="9.0" fill="#67686b" opacity="1" filter="url(#b2)"/>
<rect x="773.9" y="1149.2" width="46.0" height="22.5" rx="9.0" fill="#67686b" opacity="1" filter="url(#b2)"/>
<rect x="829.3" y="1149.2" width="46.0" height="22.5" rx="9.0" fill="#67686b" opacity="1" filter="url(#b2)"/>
<rect x="883.5" y="1149.2" width="46.0" height="22.5" rx="9.0" fill="#67686b" opacity="1" filter="url(#b2)"/>
<rect x="940.2" y="1149.2" width="46.0" height="22.5" rx="9.0" fill="#67686b" opacity="1" filter="url(#b2)" transform="rotate(-6 963.2 1160.5)"/>
<rect x="334.6" y="1229.8" width="37.0" height="6.5" rx="3.2" fill="#626366" opacity="0.75" filter="url(#b2)"/>
<rect x="392.0" y="1229.2" width="37.0" height="6.5" rx="3.2" fill="#626366" opacity="0.7" filter="url(#b2)"/>
<rect x="448.7" y="1228.8" width="37.0" height="6.5" rx="3.2" fill="#626366" opacity="0.75" filter="url(#b2)"/>
<rect x="506.7" y="1227.8" width="37.0" height="6.5" rx="3.2" fill="#626366" opacity="0.75" filter="url(#b2)"/>
<rect x="565.5" y="1229.2" width="37.0" height="6.5" rx="3.2" fill="#626366" opacity="0.62" filter="url(#b2)"/>
<rect x="623.7" y="1228.8" width="37.0" height="6.5" rx="3.2" fill="#626366" opacity="0.38" filter="url(#b2)"/>
<rect x="680.3" y="1227.8" width="37.0" height="6.5" rx="3.2" fill="#626366" opacity="0.7" filter="url(#b2)"/>
<rect x="737.5" y="1227.8" width="37.0" height="6.5" rx="3.2" fill="#626366" opacity="0.7" filter="url(#b2)"/>
<rect x="793.4" y="1227.2" width="37.0" height="6.5" rx="3.2" fill="#626366" opacity="0.78" filter="url(#b2)"/>
<rect x="849.3" y="1227.2" width="37.0" height="6.5" rx="3.2" fill="#626366" opacity="0.72" filter="url(#b2)"/>
<rect x="905.6" y="1227.8" width="37.0" height="6.5" rx="3.2" fill="#626366" opacity="0.82" filter="url(#b2)"/>
<rect x="961.1" y="1227.8" width="37.0" height="6.5" rx="3.2" fill="#626366" opacity="0.8" filter="url(#b2)"/>
</g>
<circle cx="153.9" cy="997.2" r="14.4" fill="none" stroke="#1a1a1a" stroke-width="1.8"/>
<text x="154.4" y="1005.8" font-size="24" font-weight="bold" text-anchor="middle" fill="#1a1a1a">P</text>
<text x="171.5" y="1006.9" font-size="27.3" font-weight="bold" textLength="145.4" lengthAdjust="spacingAndGlyphs" fill="#1a1a1a" >-T389-S6K1</text>
<text x="252.9" y="1089.0" font-size="27.3" font-weight="bold" textLength="64.0" lengthAdjust="spacingAndGlyphs" fill="#1a1a1a" >S6K1</text>
<text x="166.0" y="1167.6" font-size="27.3" font-weight="bold" textLength="153.3" lengthAdjust="spacingAndGlyphs" fill="#1a1a1a" >FLAG-TKFC</text>
<text x="233.9" y="1242.5" font-size="27.3" font-weight="bold" textLength="85.4" lengthAdjust="spacingAndGlyphs" fill="#1a1a1a" >Raptor</text>
<text x="1009.1" y="953.8" font-size="14.2" font-weight="bold" textLength="69.5" lengthAdjust="spacingAndGlyphs" fill="#1a1a1a" >MW (kDa)</text>
<rect x="1014.8" y="1013.1" width="9.5" height="1.8" fill="#1a1a1a"/>
<text x="1028.0" y="1019.5" font-size="15.2" font-weight="bold" text-anchor="start" fill="#1a1a1a">58</text>
<rect x="1014.8" y="1103.2" width="9.5" height="1.8" fill="#1a1a1a"/>
<text x="1028.0" y="1109.6" font-size="15.2" font-weight="bold" text-anchor="start" fill="#1a1a1a">58</text>
<rect x="1014.8" y="1157.1" width="9.5" height="1.8" fill="#1a1a1a"/>
<text x="1028.0" y="1163.5" font-size="15.2" font-weight="bold" text-anchor="start" fill="#1a1a1a">58</text>
<rect x="1014.8" y="1246.9" width="9.5" height="1.8" fill="#1a1a1a"/>
<text x="1028.0" y="1253.3" font-size="15.2" font-weight="bold" text-anchor="start" fill="#1a1a1a">135</text>
<text x="492.6" y="1297.8" font-size="27"  textLength="353.0" lengthAdjust="spacingAndGlyphs" fill="#1a1a1a" >HEK-293T AMPKα DKO cells</text>
<text transform="translate(1277.0,869.5) scale(1.0,1)" font-size="69" font-weight="bold" fill="#000" stroke="#000" stroke-width="1.2">d</text>
<text transform="translate(1405.5,1164.7) rotate(-90)" font-size="26.5" textLength="249.0" lengthAdjust="spacingAndGlyphs" fill="#1a1a1a">Relative metabolite level</text>
<line x1="1434.4" y1="923.8" x2="1434.4" y2="1177.2" stroke="#000" stroke-width="1.8" stroke-linecap="butt"/>
<line x1="1433.5" y1="1176.3" x2="1646.2" y2="1176.3" stroke="#000" stroke-width="1.8" stroke-linecap="butt"/>
<line x1="1429.9" y1="924.7" x2="1434.4" y2="924.7" stroke="#000" stroke-width="1.62" stroke-linecap="butt"/>
<text transform="translate(1427.9,931.2) scale(0.84,1)" font-size="18" font-weight="bold" text-anchor="end" fill="#000" stroke="#000" stroke-width="0.35">8</text>
<line x1="1429.9" y1="987.7" x2="1434.4" y2="987.7" stroke="#000" stroke-width="1.62" stroke-linecap="butt"/>
<text transform="translate(1427.9,994.2) scale(0.84,1)" font-size="18" font-weight="bold" text-anchor="end" fill="#000" stroke="#000" stroke-width="0.35">6</text>
<line x1="1429.9" y1="1050.8" x2="1434.4" y2="1050.8" stroke="#000" stroke-width="1.62" stroke-linecap="butt"/>
<text transform="translate(1427.9,1057.3) scale(0.84,1)" font-size="18" font-weight="bold" text-anchor="end" fill="#000" stroke="#000" stroke-width="0.35">4</text>
<line x1="1429.9" y1="1113.9" x2="1434.4" y2="1113.9" stroke="#000" stroke-width="1.62" stroke-linecap="butt"/>
<text transform="translate(1427.9,1120.4) scale(0.84,1)" font-size="18" font-weight="bold" text-anchor="end" fill="#000" stroke="#000" stroke-width="0.35">2</text>
<line x1="1429.9" y1="1176.3" x2="1434.4" y2="1176.3" stroke="#000" stroke-width="1.62" stroke-linecap="butt"/>
<text transform="translate(1427.9,1182.8) scale(0.84,1)" font-size="18" font-weight="bold" text-anchor="end" fill="#000" stroke="#000" stroke-width="0.35">0</text>
<line x1="1472.4" y1="1176.3" x2="1472.4" y2="1180.3" stroke="#000" stroke-width="1.8" stroke-linecap="butt"/>
<line x1="1517.6" y1="1176.3" x2="1517.6" y2="1180.3" stroke="#000" stroke-width="1.8" stroke-linecap="butt"/>
<line x1="1563.5" y1="1176.3" x2="1563.5" y2="1180.3" stroke="#000" stroke-width="1.8" stroke-linecap="butt"/>
<line x1="1609.9" y1="1176.3" x2="1609.9" y2="1180.3" stroke="#000" stroke-width="1.8" stroke-linecap="butt"/>
<text x="1448.3" y="937.5" font-size="28"  textLength="199.2" lengthAdjust="spacingAndGlyphs" fill="#1a1a1a" >Dihydroxyacetone</text>
<text x="1489.8" y="967.0" font-size="28"  textLength="116.2" lengthAdjust="spacingAndGlyphs" fill="#1a1a1a" >phosphate</text>
<rect x="1454.7" y="1145.4" width="35.5" height="30.9" fill="#b9bcd7" stroke="#000" stroke-width="1.8"/>
<rect x="1545.8" y="1165.4" width="35.5" height="10.9" fill="#b9bcd7" stroke="#000" stroke-width="1.8"/>
<rect x="1592.2" y="1048.5" width="35.5" height="127.8" fill="#b8c8e0" stroke="#000" stroke-width="1.8"/>
<line x1="1460.4" y1="1144.5" x2="1484.4" y2="1144.5" stroke="#000" stroke-width="2" stroke-linecap="butt"/>
<circle cx="1460.4" cy="1147.0" r="2.5" fill="#000"/>
<circle cx="1472.4" cy="1142.0" r="2.5" fill="#000"/>
<circle cx="1484.4" cy="1145.0" r="2.5" fill="#000"/>
<circle cx="1505.6" cy="1176.3" r="2.5" fill="#000"/>
<circle cx="1517.6" cy="1176.3" r="2.5" fill="#000"/>
<circle cx="1529.6" cy="1176.3" r="2.5" fill="#000"/>
<line x1="1551.5" y1="1165.0" x2="1575.5" y2="1165.0" stroke="#000" stroke-width="2" stroke-linecap="butt"/>
<circle cx="1551.5" cy="1166.0" r="2.5" fill="#000"/>
<circle cx="1563.5" cy="1162.5" r="2.5" fill="#000"/>
<circle cx="1575.5" cy="1166.0" r="2.5" fill="#000"/>
<line x1="1597.9" y1="1046.5" x2="1621.9" y2="1046.5" stroke="#000" stroke-width="2" stroke-linecap="butt"/>
<circle cx="1598.9" cy="1051.0" r="2.5" fill="#000"/>
<circle cx="1609.9" cy="1046.0" r="2.5" fill="#000"/>
<circle cx="1620.9" cy="1045.5" r="2.5" fill="#000"/>
<line x1="1676.7" y1="923.8" x2="1676.7" y2="1177.2" stroke="#000" stroke-width="1.8" stroke-linecap="butt"/>
<line x1="1675.8" y1="1176.3" x2="1888.2" y2="1176.3" stroke="#000" stroke-width="1.8" stroke-linecap="butt"/>
<line x1="1672.2" y1="924.7" x2="1676.7" y2="924.7" stroke="#000" stroke-width="1.62" stroke-linecap="butt"/>
<text transform="translate(1670.2,931.2) scale(0.84,1)" font-size="18" font-weight="bold" text-anchor="end" fill="#000" stroke="#000" stroke-width="0.35">6</text>
<line x1="1672.2" y1="1008.7" x2="1676.7" y2="1008.7" stroke="#000" stroke-width="1.62" stroke-linecap="butt"/>
<text transform="translate(1670.2,1015.2) scale(0.84,1)" font-size="18" font-weight="bold" text-anchor="end" fill="#000" stroke="#000" stroke-width="0.35">4</text>
<line x1="1672.2" y1="1092.4" x2="1676.7" y2="1092.4" stroke="#000" stroke-width="1.62" stroke-linecap="butt"/>
<text transform="translate(1670.2,1098.9) scale(0.84,1)" font-size="18" font-weight="bold" text-anchor="end" fill="#000" stroke="#000" stroke-width="0.35">2</text>
<line x1="1672.2" y1="1176.3" x2="1676.7" y2="1176.3" stroke="#000" stroke-width="1.62" stroke-linecap="butt"/>
<text transform="translate(1670.2,1182.8) scale(0.84,1)" font-size="18" font-weight="bold" text-anchor="end" fill="#000" stroke="#000" stroke-width="0.35">0</text>
<line x1="1714.4" y1="1176.3" x2="1714.4" y2="1180.3" stroke="#000" stroke-width="1.8" stroke-linecap="butt"/>
<line x1="1760.2" y1="1176.3" x2="1760.2" y2="1180.3" stroke="#000" stroke-width="1.8" stroke-linecap="butt"/>
<line x1="1805.8" y1="1176.3" x2="1805.8" y2="1180.3" stroke="#000" stroke-width="1.8" stroke-linecap="butt"/>
<line x1="1851.5" y1="1176.3" x2="1851.5" y2="1180.3" stroke="#000" stroke-width="1.8" stroke-linecap="butt"/>
<text x="1719.9" y="937.5" font-size="28"  textLength="172.6" lengthAdjust="spacingAndGlyphs" fill="#1a1a1a" >Glyceraldehyde</text>
<text x="1737.5" y="967.0" font-size="28"  textLength="138.4" lengthAdjust="spacingAndGlyphs" fill="#1a1a1a" >3-phosphate</text>
<rect x="1696.7" y="1134.8" width="35.5" height="41.5" fill="#b9bcd7" stroke="#000" stroke-width="1.8"/>
<rect x="1742.5" y="1170.3" width="35.5" height="6.0" fill="#b9bcd7" stroke="#000" stroke-width="1.8"/>
<rect x="1788.0" y="1156.1" width="35.5" height="20.2" fill="#b9bcd7" stroke="#000" stroke-width="1.8"/>
<rect x="1833.8" y="1080.7" width="35.5" height="95.6" fill="#b8c8e0" stroke="#000" stroke-width="1.8"/>
<line x1="1702.4" y1="1135.0" x2="1726.4" y2="1135.0" stroke="#000" stroke-width="2" stroke-linecap="butt"/>
<circle cx="1702.4" cy="1135.5" r="2.5" fill="#000"/>
<circle cx="1714.4" cy="1131.5" r="2.5" fill="#000"/>
<circle cx="1726.4" cy="1135.5" r="2.5" fill="#000"/>
<line x1="1748.2" y1="1169.8" x2="1772.2" y2="1169.8" stroke="#000" stroke-width="2" stroke-linecap="butt"/>
<circle cx="1748.2" cy="1170.3" r="2.5" fill="#000"/>
<circle cx="1760.2" cy="1169.5" r="2.5" fill="#000"/>
<circle cx="1772.2" cy="1170.3" r="2.5" fill="#000"/>
<line x1="1793.8" y1="1156.0" x2="1817.8" y2="1156.0" stroke="#000" stroke-width="2" stroke-linecap="butt"/>
<circle cx="1793.8" cy="1156.5" r="2.5" fill="#000"/>
<circle cx="1805.8" cy="1153.5" r="2.5" fill="#000"/>
<circle cx="1817.8" cy="1156.5" r="2.5" fill="#000"/>
<line x1="1851.5" y1="1073.4" x2="1851.5" y2="1087.3" stroke="#000" stroke-width="2" stroke-linecap="butt"/>
<line x1="1842.0" y1="1073.4" x2="1861.0" y2="1073.4" stroke="#000" stroke-width="2" stroke-linecap="butt"/>
<line x1="1842.0" y1="1087.3" x2="1861.0" y2="1087.3" stroke="#000" stroke-width="2" stroke-linecap="butt"/>
<circle cx="1845.5" cy="1073.4" r="2.5" fill="#000"/>
<circle cx="1858.0" cy="1073.4" r="2.5" fill="#000"/>
<circle cx="1851.5" cy="1094.6" r="2.5" fill="#000"/>
<text x="1286.0" y="1201.2" font-size="21.5"  textLength="149.4" lengthAdjust="spacingAndGlyphs" fill="#1a1a1a" >2 mM Glucose</text>
<text x="1198.0" y="1230.1" font-size="21.5"  textLength="237.4" lengthAdjust="spacingAndGlyphs" fill="#1a1a1a" >[Glyceraldehyde] (mM)</text>
<rect x="1466.2" y="1195.7" width="11.5" height="1.6" fill="#1a1a1a"/>
<rect x="1471.1" y="1190.8" width="1.6" height="11.5" fill="#1a1a1a"/>
<rect x="1465.7" y="1223.7" width="12.5" height="1.6" fill="#1a1a1a"/>
<rect x="1510.8" y="1193.8" width="12.5" height="1.6" fill="#1a1a1a"/>
<rect x="1510.8" y="1223.7" width="12.5" height="1.6" fill="#1a1a1a"/>
<rect x="1556.8" y="1193.8" width="12.5" height="1.6" fill="#1a1a1a"/>
<text x="1563.0" y="1230.1" font-size="21.5"  text-anchor="middle" fill="#1a1a1a">1</text>
<rect x="1603.2" y="1193.8" width="12.5" height="1.6" fill="#1a1a1a"/>
<text x="1609.4" y="1230.1" font-size="21.5"  text-anchor="middle" fill="#1a1a1a">10</text>
<rect x="1708.2" y="1195.7" width="11.5" height="1.6" fill="#1a1a1a"/>
<rect x="1713.1" y="1190.8" width="1.6" height="11.5" fill="#1a1a1a"/>
<rect x="1707.7" y="1223.7" width="12.5" height="1.6" fill="#1a1a1a"/>
<rect x="1753.5" y="1193.8" width="12.5" height="1.6" fill="#1a1a1a"/>
<rect x="1753.5" y="1223.7" width="12.5" height="1.6" fill="#1a1a1a"/>
<rect x="1799.0" y="1193.8" width="12.5" height="1.6" fill="#1a1a1a"/>
<text x="1805.3" y="1230.1" font-size="21.5"  text-anchor="middle" fill="#1a1a1a">1</text>
<rect x="1844.8" y="1193.8" width="12.5" height="1.6" fill="#1a1a1a"/>
<text x="1851.0" y="1230.1" font-size="21.5"  text-anchor="middle" fill="#1a1a1a">10</text>
<line x1="1431.1" y1="1240.7" x2="1887.6" y2="1240.7" stroke="#000" stroke-width="1.6" stroke-linecap="butt"/>
<text x="1507.4" y="1265.8" font-size="23.3"  textLength="303.8" lengthAdjust="spacingAndGlyphs" fill="#1a1a1a" >HEK-293T AMPKα DKO cells</text>
<text x="1543.3" y="1294.0" font-size="23.3"  textLength="232.1" lengthAdjust="spacingAndGlyphs" fill="#1a1a1a" >expressing Flag-TKFC</text>
<text transform="translate(13.9,1462.0) scale(1.03,1)" font-size="67" font-weight="bold" fill="#000" stroke="#000" stroke-width="1.2">e</text>
<text x="402.0" y="1423.8" font-size="27"  textLength="196.0" lengthAdjust="spacingAndGlyphs" fill="#1a1a1a" >TPI Dox-off cells</text>
<text x="717.2" y="1423.8" font-size="27"  textLength="229.2" lengthAdjust="spacingAndGlyphs" fill="#1a1a1a" >ALDO Dox-off cells</text>
<path d="M329.0,1440.9 V1430.9 H665.3 V1440.9" stroke="#000" stroke-width="1.6" fill="none"/>
<path d="M670.2,1440.9 V1430.9 H1006.7 V1440.9" stroke="#000" stroke-width="1.6" fill="none"/>
<text x="278.1" y="1460.4" font-size="27.5"  textLength="46.7" lengthAdjust="spacingAndGlyphs" fill="#1a1a1a" >Dox</text>
<text x="109.6" y="1497.0" font-size="27.5"  textLength="215.2" lengthAdjust="spacingAndGlyphs" fill="#1a1a1a" >Dihydroxyacetone</text>
<text x="226.9" y="1533.2" font-size="27.5"  textLength="97.9" lengthAdjust="spacingAndGlyphs" fill="#1a1a1a" >Glucose</text>
<rect x="409.9" y="1450.4" width="18.5" height="3.2" fill="#1a1a1a"/>
<rect x="579.5" y="1451.1" width="17.5" height="3.6" fill="#1a1a1a"/>
<rect x="586.5" y="1444.2" width="3.6" height="17.5" fill="#1a1a1a"/>
<rect x="741.0" y="1450.4" width="18.5" height="3.2" fill="#1a1a1a"/>
<rect x="912.6" y="1451.1" width="17.5" height="3.6" fill="#1a1a1a"/>
<rect x="919.6" y="1444.2" width="3.6" height="17.5" fill="#1a1a1a"/>
<path d="M330.6,1475.6 V1465.9 H496.6 V1475.6" stroke="#000" stroke-width="1.6" fill="none"/>
<path d="M503.4,1475.6 V1465.9 H665.3 V1475.6" stroke="#000" stroke-width="1.6" fill="none"/>
<path d="M668.6,1475.6 V1465.9 H828.1 V1475.6" stroke="#000" stroke-width="1.6" fill="none"/>
<path d="M838.8,1475.6 V1465.9 H999.9 V1475.6" stroke="#000" stroke-width="1.6" fill="none"/>
<rect x="349.2" y="1487.0" width="18.5" height="3.2" fill="#1a1a1a"/>
<rect x="349.8" y="1524.2" width="17.5" height="3.6" fill="#1a1a1a"/>
<rect x="356.7" y="1517.2" width="3.6" height="17.5" fill="#1a1a1a"/>
<rect x="409.9" y="1487.0" width="18.5" height="3.2" fill="#1a1a1a"/>
<rect x="409.9" y="1523.6" width="18.5" height="3.2" fill="#1a1a1a"/>
<rect x="465.1" y="1487.7" width="17.5" height="3.6" fill="#1a1a1a"/>
<rect x="472.1" y="1480.8" width="3.6" height="17.5" fill="#1a1a1a"/>
<rect x="464.6" y="1523.6" width="18.5" height="3.2" fill="#1a1a1a"/>
<rect x="518.4" y="1487.0" width="18.5" height="3.2" fill="#1a1a1a"/>
<rect x="518.9" y="1524.2" width="17.5" height="3.6" fill="#1a1a1a"/>
<rect x="525.8" y="1517.2" width="3.6" height="17.5" fill="#1a1a1a"/>
<rect x="579.8" y="1487.0" width="18.5" height="3.2" fill="#1a1a1a"/>
<rect x="579.8" y="1523.6" width="18.5" height="3.2" fill="#1a1a1a"/>
<rect x="632.8" y="1487.7" width="17.5" height="3.6" fill="#1a1a1a"/>
<rect x="639.7" y="1480.8" width="3.6" height="17.5" fill="#1a1a1a"/>
<rect x="632.2" y="1523.6" width="18.5" height="3.2" fill="#1a1a1a"/>
<rect x="680.2" y="1487.0" width="18.5" height="3.2" fill="#1a1a1a"/>
<rect x="680.8" y="1524.2" width="17.5" height="3.6" fill="#1a1a1a"/>
<rect x="687.7" y="1517.2" width="3.6" height="17.5" fill="#1a1a1a"/>
<rect x="741.0" y="1487.0" width="18.5" height="3.2" fill="#1a1a1a"/>
<rect x="741.0" y="1523.6" width="18.5" height="3.2" fill="#1a1a1a"/>
<rect x="795.2" y="1487.7" width="17.5" height="3.6" fill="#1a1a1a"/>
<rect x="802.2" y="1480.8" width="3.6" height="17.5" fill="#1a1a1a"/>
<rect x="794.8" y="1523.6" width="18.5" height="3.2" fill="#1a1a1a"/>
<rect x="850.8" y="1487.0" width="18.5" height="3.2" fill="#1a1a1a"/>
<rect x="851.2" y="1524.2" width="17.5" height="3.6" fill="#1a1a1a"/>
<rect x="858.2" y="1517.2" width="3.6" height="17.5" fill="#1a1a1a"/>
<rect x="911.2" y="1487.0" width="18.5" height="3.2" fill="#1a1a1a"/>
<rect x="911.2" y="1523.6" width="18.5" height="3.2" fill="#1a1a1a"/>
<rect x="966.2" y="1487.7" width="17.5" height="3.6" fill="#1a1a1a"/>
<rect x="973.2" y="1480.8" width="3.6" height="17.5" fill="#1a1a1a"/>
<rect x="965.8" y="1523.6" width="18.5" height="3.2" fill="#1a1a1a"/>
<rect x="330.6" y="1539.5" width="684.2" height="72.3" fill="#dedfe3"/>
<rect x="330.6" y="1626.0" width="684.2" height="69.4" fill="#dedfe3"/>
<rect x="330.6" y="1710.0" width="684.2" height="75.0" fill="#dedfe3"/>
<rect x="330.6" y="1798.8" width="684.2" height="68.1" fill="#dedfe3"/>
<rect x="330.6" y="1880.8" width="684.2" height="71.8" fill="#dedfe3"/>
<rect x="346.5" y="1570.9" width="46.0" height="17.0" rx="8.5" fill="#626366" opacity="0.9" filter="url(#b25)"/>
<rect x="406.3" y="1577.1" width="40.0" height="11.0" rx="5.5" fill="#626366" opacity="0.5" filter="url(#b25)"/>
<rect x="457.9" y="1574.4" width="45.0" height="21.0" rx="10.5" fill="#626366" opacity="0.95" filter="url(#b25)"/>
<rect x="511.3" y="1572.8" width="47.0" height="26.0" rx="13.0" fill="#626366" opacity="1" filter="url(#b25)"/>
<rect x="569.2" y="1578.7" width="40.0" height="13.0" rx="6.5" fill="#626366" opacity="0.55" filter="url(#b25)"/>
<rect x="618.0" y="1572.4" width="46.0" height="25.0" rx="12.5" fill="#626366" opacity="1" filter="url(#b25)"/>
<rect x="668.0" y="1570.5" width="46.0" height="26.0" rx="13.0" fill="#626366" opacity="1" filter="url(#b25)"/>
<rect x="723.1" y="1574.5" width="41.0" height="13.0" rx="6.5" fill="#626366" opacity="0.75" filter="url(#b25)" transform="rotate(-3 743.6 1581.0)"/>
<rect x="773.3" y="1570.5" width="45.0" height="22.0" rx="11.0" fill="#626366" opacity="1" filter="url(#b25)"/>
<rect x="829.0" y="1577.4" width="40.0" height="9.0" rx="4.5" fill="#626366" opacity="0.22" filter="url(#b25)"/>
<rect x="884.2" y="1576.1" width="39.0" height="11.0" rx="5.5" fill="#626366" opacity="0.55" filter="url(#b25)" transform="rotate(-3 903.7 1581.6)"/>
<rect x="937.5" y="1569.0" width="47.0" height="14.0" rx="7.0" fill="#626366" opacity="0.85" filter="url(#b25)" transform="rotate(-6 961.0 1576.0)"/>
<rect x="343.8" y="1654.9" width="45.0" height="24.0" rx="8.0" fill="#626366" opacity="0.97" filter="url(#b25)"/>
<rect x="398.9" y="1659.7" width="45.0" height="24.0" rx="8.0" fill="#626366" opacity="0.97" filter="url(#b25)"/>
<rect x="454.0" y="1659.7" width="45.0" height="24.0" rx="8.0" fill="#626366" opacity="0.97" filter="url(#b25)"/>
<rect x="509.1" y="1659.7" width="45.0" height="24.0" rx="8.0" fill="#626366" opacity="0.97" filter="url(#b25)"/>
<rect x="561.8" y="1662.5" width="45.0" height="24.0" rx="8.0" fill="#626366" opacity="0.97" filter="url(#b25)"/>
<rect x="616.9" y="1662.3" width="45.0" height="24.0" rx="8.0" fill="#626366" opacity="0.97" filter="url(#b25)"/>
<rect x="671.5" y="1662.0" width="45.0" height="24.0" rx="8.0" fill="#626366" opacity="0.97" filter="url(#b25)"/>
<rect x="725.5" y="1664.0" width="45.0" height="24.0" rx="8.0" fill="#626366" opacity="0.97" filter="url(#b25)"/>
<rect x="778.5" y="1659.5" width="45.0" height="24.0" rx="8.0" fill="#626366" opacity="0.97" filter="url(#b25)"/>
<rect x="833.0" y="1664.2" width="45.0" height="24.0" rx="8.0" fill="#626366" opacity="0.97" filter="url(#b25)"/>
<rect x="887.5" y="1659.0" width="45.0" height="24.0" rx="8.0" fill="#626366" opacity="0.97" filter="url(#b25)" transform="rotate(-7 910.0 1671.0)"/>
<rect x="942.0" y="1651.0" width="45.0" height="24.0" rx="8.0" fill="#626366" opacity="0.97" filter="url(#b25)" transform="rotate(-9 964.5 1663.0)"/>
<rect x="334.0" y="1724.8" width="63.0" height="29.5" rx="14.0" fill="#696a6d" opacity="1" filter="url(#b2)" transform="rotate(5 365.5 1739.6)"/>
<rect x="389.5" y="1731.5" width="63.0" height="29.5" rx="14.0" fill="#696a6d" opacity="1" filter="url(#b2)"/>
<rect x="444.0" y="1733.7" width="63.0" height="29.5" rx="14.0" fill="#696a6d" opacity="1" filter="url(#b2)"/>
<rect x="662.0" y="1735.0" width="62.0" height="31.0" rx="14.0" fill="#696a6d" opacity="1" filter="url(#b2)"/>
<rect x="716.0" y="1735.0" width="62.0" height="31.0" rx="14.0" fill="#696a6d" opacity="1" filter="url(#b2)"/>
<rect x="770.5" y="1735.0" width="62.0" height="31.0" rx="14.0" fill="#696a6d" opacity="1" filter="url(#b2)"/>
<rect x="825.0" y="1736.0" width="62.0" height="31.0" rx="14.0" fill="#696a6d" opacity="1" filter="url(#b2)"/>
<rect x="878.5" y="1736.0" width="62.0" height="31.0" rx="14.0" fill="#696a6d" opacity="1" filter="url(#b2)"/>
<rect x="936.0" y="1729.5" width="60.0" height="31.0" rx="14.0" fill="#696a6d" opacity="1" filter="url(#b2)" transform="rotate(-12 966.0 1745.0)"/>
<rect x="675.8" y="1827.5" width="44.0" height="12.5" rx="6.2" fill="#626366" opacity="1" filter="url(#b2)"/>
<rect x="728.3" y="1827.5" width="44.0" height="12.5" rx="6.2" fill="#626366" opacity="1" filter="url(#b2)"/>
<rect x="782.1" y="1827.5" width="44.0" height="12.5" rx="6.2" fill="#626366" opacity="1" filter="url(#b2)"/>
<rect x="347.3" y="1909.3" width="40.0" height="11.0" rx="4.0" fill="#626366" opacity="0.95" filter="url(#b15)"/>
<rect x="402.4" y="1907.1" width="40.0" height="11.0" rx="4.0" fill="#626366" opacity="0.95" filter="url(#b15)"/>
<rect x="456.5" y="1906.1" width="40.0" height="11.0" rx="4.0" fill="#626366" opacity="0.95" filter="url(#b15)"/>
<rect x="510.0" y="1909.3" width="40.0" height="11.0" rx="4.0" fill="#626366" opacity="0.95" filter="url(#b15)"/>
<rect x="564.3" y="1912.6" width="40.0" height="11.0" rx="4.0" fill="#626366" opacity="0.95" filter="url(#b15)"/>
<rect x="619.4" y="1914.2" width="40.0" height="11.0" rx="4.0" fill="#626366" opacity="0.95" filter="url(#b15)"/>
<rect x="672.9" y="1916.5" width="40.0" height="11.0" rx="4.0" fill="#626366" opacity="0.95" filter="url(#b15)"/>
<rect x="727.4" y="1915.2" width="40.0" height="11.0" rx="4.0" fill="#626366" opacity="0.95" filter="url(#b15)"/>
<rect x="781.5" y="1915.2" width="40.0" height="11.0" rx="4.0" fill="#626366" opacity="0.95" filter="url(#b15)"/>
<rect x="835.6" y="1917.5" width="40.0" height="11.0" rx="4.0" fill="#626366" opacity="0.95" filter="url(#b15)"/>
<rect x="889.4" y="1914.2" width="40.0" height="11.0" rx="4.0" fill="#626366" opacity="0.95" filter="url(#b15)" transform="rotate(-5 909.4 1919.7)"/>
<rect x="942.9" y="1909.3" width="40.0" height="11.0" rx="4.0" fill="#626366" opacity="0.95" filter="url(#b15)" transform="rotate(-6 962.9 1914.8)"/>
<circle cx="158.9" cy="1573.4" r="14.6" fill="none" stroke="#1a1a1a" stroke-width="1.8"/>
<text x="159.4" y="1582.0" font-size="24" font-weight="bold" text-anchor="middle" fill="#1a1a1a">P</text>
<text x="177.5" y="1583.2" font-size="27" font-weight="bold" textLength="145.7" lengthAdjust="spacingAndGlyphs" fill="#1a1a1a" >-T389-S6K1</text>
<text x="258.3" y="1665.3" font-size="27.3" font-weight="bold" textLength="64.9" lengthAdjust="spacingAndGlyphs" fill="#1a1a1a" >S6K1</text>
<text x="284.3" y="1748.6" font-size="27.3" font-weight="bold" textLength="40.5" lengthAdjust="spacingAndGlyphs" fill="#1a1a1a" >TPI</text>
<text x="164.7" y="1841.9" font-size="27.3" font-weight="bold" textLength="160.1" lengthAdjust="spacingAndGlyphs" fill="#1a1a1a" >FLAG-AldoA</text>
<text x="239.9" y="1916.5" font-size="27.3" font-weight="bold" textLength="84.9" lengthAdjust="spacingAndGlyphs" fill="#1a1a1a" >Raptor</text>
<text x="1019.6" y="1538.2" font-size="14.2" font-weight="bold" textLength="69.4" lengthAdjust="spacingAndGlyphs" fill="#1a1a1a" >MW (kDa)</text>
<rect x="1022.9" y="1606.0" width="9.5" height="1.8" fill="#1a1a1a"/>
<text x="1036.1" y="1612.4" font-size="15.2" font-weight="bold" text-anchor="start" fill="#1a1a1a">58</text>
<rect x="1022.9" y="1689.6" width="9.5" height="1.8" fill="#1a1a1a"/>
<text x="1036.1" y="1696.0" font-size="15.2" font-weight="bold" text-anchor="start" fill="#1a1a1a">58</text>
<rect x="1022.9" y="1758.4" width="9.5" height="1.8" fill="#1a1a1a"/>
<text x="1036.1" y="1764.8" font-size="15.2" font-weight="bold" text-anchor="start" fill="#1a1a1a">25</text>
<rect x="1022.9" y="1796.6" width="9.5" height="1.8" fill="#1a1a1a"/>
<text x="1036.1" y="1803.0" font-size="15.2" font-weight="bold" text-anchor="start" fill="#1a1a1a">46</text>
<rect x="1022.9" y="1935.4" width="9.5" height="1.8" fill="#1a1a1a"/>
<text x="1036.1" y="1941.8" font-size="15.2" font-weight="bold" text-anchor="start" fill="#1a1a1a">135</text>
<text x="343.6" y="1980.0" font-size="27"  textLength="648.2" lengthAdjust="spacingAndGlyphs" fill="#1a1a1a" >HEK-293T AMPKα DKO cells stably expressing TKFC</text>
</svg>
</body></html>
